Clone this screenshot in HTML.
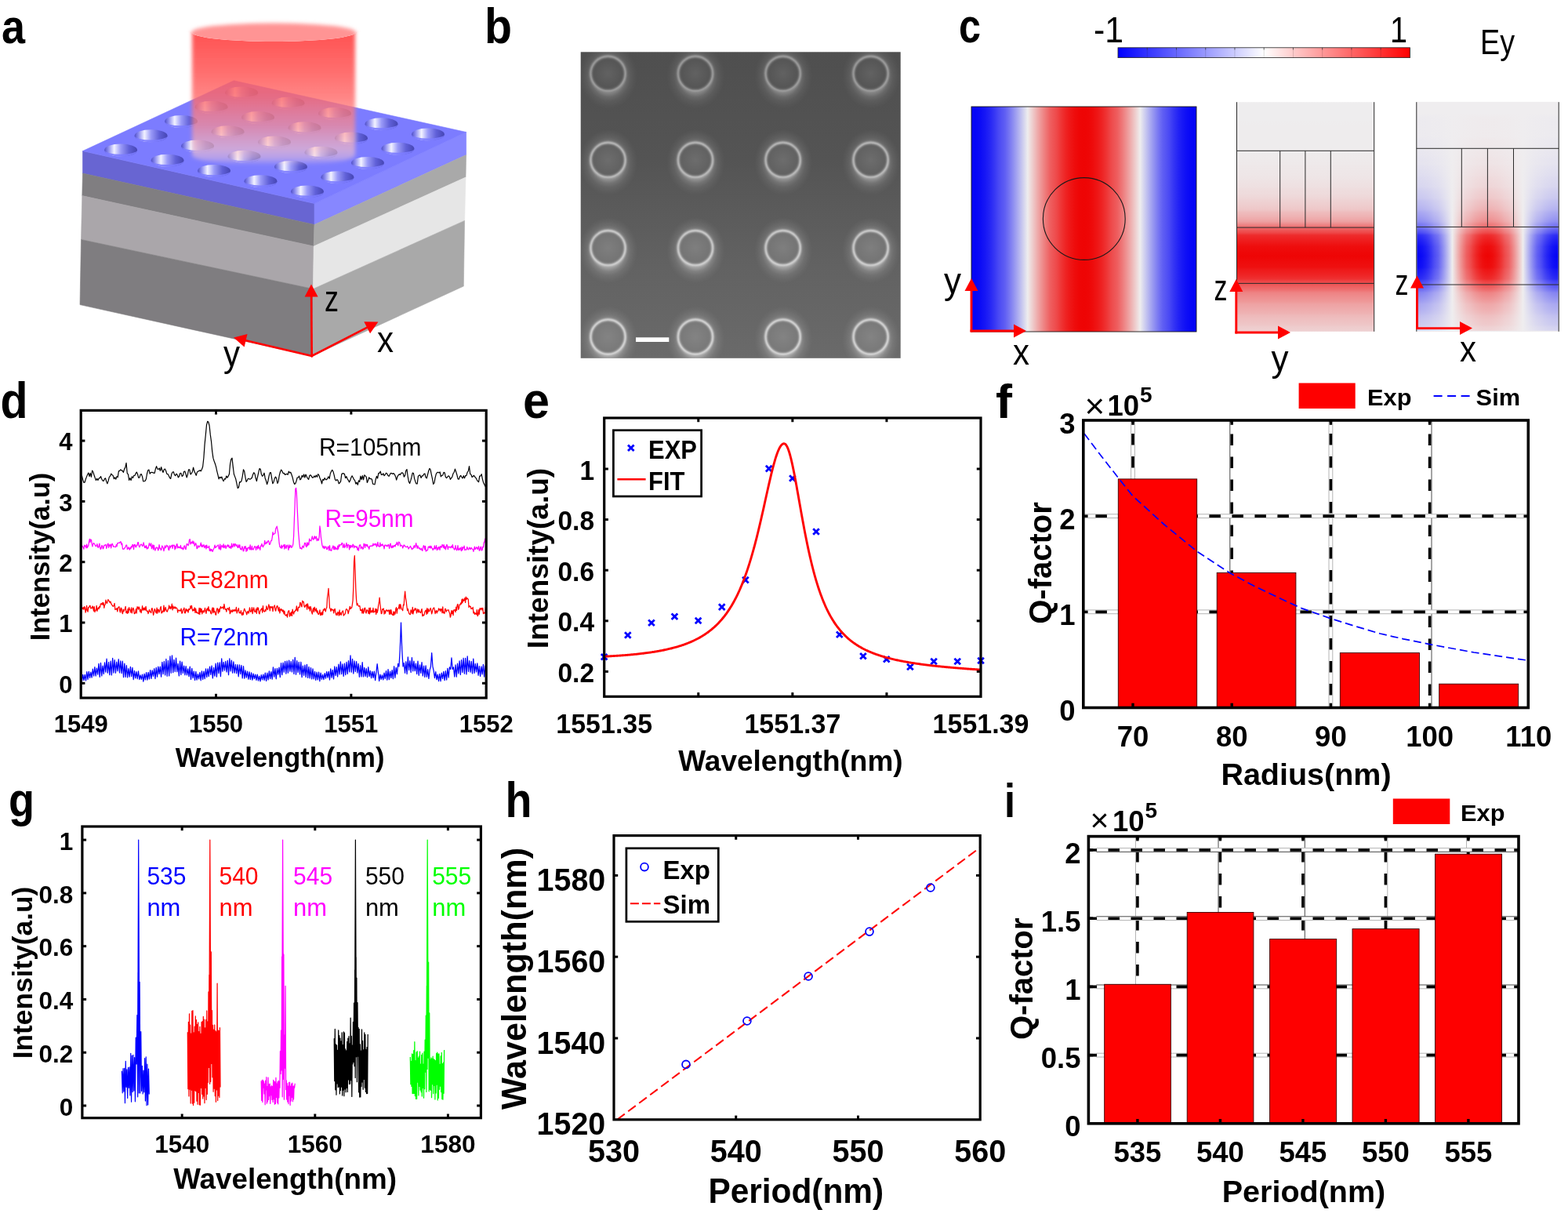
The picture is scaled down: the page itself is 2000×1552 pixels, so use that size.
<!DOCTYPE html>
<html lang="en">
<head>
<meta charset="utf-8">
<title>Figure</title>
<style>
html,body{margin:0;padding:0;background:#fff;}
body{width:2000px;height:1552px;overflow:hidden;}
svg{display:block;}
svg text{font-family:"Liberation Sans", Arial, Helvetica, sans-serif;}
</style>
</head>
<body>
<svg width="2000" height="1552" viewBox="0 0 2000 1552">
<defs>
<linearGradient id="aLight" x1="0" y1="0" x2="1" y2="0"><stop offset="0" stop-color="#dcdcdc"/><stop offset="1" stop-color="#ececec"/></linearGradient>
<linearGradient id="aTop" x1="0" y1="0" x2="1" y2="0"><stop offset="0" stop-color="#7a7aff"/><stop offset="1" stop-color="#8080ff"/></linearGradient>
<linearGradient id="aHole" x1="0" y1="0" x2="1" y2="0"><stop offset="0" stop-color="#5050c8"/><stop offset="0.12" stop-color="#8a8af0"/><stop offset="0.3" stop-color="#f2f2ff"/><stop offset="0.5" stop-color="#9a9af8"/><stop offset="0.75" stop-color="#6060d8"/><stop offset="1" stop-color="#4646b4"/></linearGradient>
<linearGradient id="aBeam" gradientUnits="userSpaceOnUse" x1="0" y1="40" x2="0" y2="211"><stop offset="0" stop-color="#ff4848" stop-opacity="0.95"/><stop offset="0.3" stop-color="#ff5a5a" stop-opacity="0.88"/><stop offset="0.5" stop-color="#ff6969" stop-opacity="0.8"/><stop offset="0.7" stop-color="#ff8c8c" stop-opacity="0.7"/><stop offset="0.88" stop-color="#ffc3c3" stop-opacity="0.62"/><stop offset="0.95" stop-color="#ffd0d0" stop-opacity="0.42"/><stop offset="1" stop-color="#ffd8d8" stop-opacity="0"/></linearGradient>
<filter id="aBlur" x="-10%" y="-10%" width="120%" height="120%"><feGaussianBlur stdDeviation="2.4"/></filter>
<filter id="aBlurE" x="-10%" y="-40%" width="120%" height="180%"><feGaussianBlur stdDeviation="2.6"/></filter>
<clipPath id="aClipBody"><path d="M230 41 L244 41 A105 12 0 0 0 454 41 L470 41 L470 230 L230 230 Z"/></clipPath>
<clipPath id="aClipTop"><path d="M230 0 L470 0 L470 41 L454 41 A105 12 0 0 1 244 41 L230 41 Z"/></clipPath>
<linearGradient id="bBg" x1="0" y1="0" x2="0" y2="1"><stop offset="0" stop-color="#4f4f4f"/><stop offset="0.35" stop-color="#545454"/><stop offset="0.7" stop-color="#626262"/><stop offset="1" stop-color="#6a6a6a"/></linearGradient>
<radialGradient id="bGlow" cx="0.5" cy="0.5" r="0.5"><stop offset="0" stop-color="#ffffff" stop-opacity="0.4"/><stop offset="0.54" stop-color="#ffffff" stop-opacity="0.38"/><stop offset="0.64" stop-color="#ffffff" stop-opacity="0.2"/><stop offset="0.76" stop-color="#ffffff" stop-opacity="0.09"/><stop offset="0.9" stop-color="#ffffff" stop-opacity="0.03"/><stop offset="1" stop-color="#ffffff" stop-opacity="0"/></radialGradient>
<radialGradient id="bIn" cx="0.5" cy="0.5" r="0.5"><stop offset="0" stop-color="#ffffff" stop-opacity="0.07"/><stop offset="0.8" stop-color="#ffffff" stop-opacity="0.0"/><stop offset="1" stop-color="#000000" stop-opacity="0.06"/></radialGradient>
<filter id="bBlur1" x="-30%" y="-30%" width="160%" height="160%"><feGaussianBlur stdDeviation="1.25"/></filter>
<clipPath id="bClip"><rect x="740.7" y="66.3" width="408" height="390.5"/></clipPath>
<linearGradient id="cBar" x1="0" y1="0" x2="1" y2="0"><stop offset="0" stop-color="#0000ff"/><stop offset="0.5" stop-color="#ffffff"/><stop offset="1" stop-color="#ff0000"/></linearGradient>
<linearGradient id="cM1" x1="0" y1="0" x2="1" y2="0"><stop offset="0" stop-color="#0404f6"/><stop offset="0.02" stop-color="#0606f6"/><stop offset="0.04" stop-color="#0c0cf6"/><stop offset="0.06" stop-color="#1616f5"/><stop offset="0.08" stop-color="#2323f5"/><stop offset="0.1" stop-color="#3434f4"/><stop offset="0.12" stop-color="#4948f4"/><stop offset="0.15" stop-color="#605ff3"/><stop offset="0.17" stop-color="#7978f2"/><stop offset="0.19" stop-color="#9494f1"/><stop offset="0.21" stop-color="#b1b1f0"/><stop offset="0.23" stop-color="#cfcfef"/><stop offset="0.25" stop-color="#eeedee"/><stop offset="0.27" stop-color="#eecfcf"/><stop offset="0.29" stop-color="#eeb1b1"/><stop offset="0.31" stop-color="#ee9494"/><stop offset="0.33" stop-color="#ee7979"/><stop offset="0.35" stop-color="#ee5f60"/><stop offset="0.38" stop-color="#ee4849"/><stop offset="0.4" stop-color="#ee3434"/><stop offset="0.42" stop-color="#ee2323"/><stop offset="0.44" stop-color="#ee1616"/><stop offset="0.46" stop-color="#ee0c0c"/><stop offset="0.48" stop-color="#ee0606"/><stop offset="0.5" stop-color="#ee0404"/><stop offset="0.52" stop-color="#ee0606"/><stop offset="0.54" stop-color="#ee0c0c"/><stop offset="0.56" stop-color="#ee1616"/><stop offset="0.58" stop-color="#ee2323"/><stop offset="0.6" stop-color="#ee3434"/><stop offset="0.62" stop-color="#ee4849"/><stop offset="0.65" stop-color="#ee5f60"/><stop offset="0.67" stop-color="#ee7879"/><stop offset="0.69" stop-color="#ee9494"/><stop offset="0.71" stop-color="#eeb1b1"/><stop offset="0.73" stop-color="#eecfcf"/><stop offset="0.75" stop-color="#eeedee"/><stop offset="0.77" stop-color="#cfcfef"/><stop offset="0.79" stop-color="#b1b1f0"/><stop offset="0.81" stop-color="#9494f1"/><stop offset="0.83" stop-color="#7978f2"/><stop offset="0.85" stop-color="#605ff3"/><stop offset="0.88" stop-color="#4948f4"/><stop offset="0.9" stop-color="#3434f4"/><stop offset="0.92" stop-color="#2323f5"/><stop offset="0.94" stop-color="#1616f5"/><stop offset="0.96" stop-color="#0c0cf6"/><stop offset="0.98" stop-color="#0606f6"/><stop offset="1" stop-color="#0404f6"/></linearGradient>
<linearGradient id="cM2" x1="0" y1="0" x2="0" y2="1"><stop offset="0" stop-color="#eeedee"/><stop offset="0.02" stop-color="#eeedee"/><stop offset="0.03" stop-color="#eeedee"/><stop offset="0.05" stop-color="#eeedee"/><stop offset="0.07" stop-color="#eeedee"/><stop offset="0.08" stop-color="#eeedee"/><stop offset="0.1" stop-color="#eeeced"/><stop offset="0.12" stop-color="#eeeced"/><stop offset="0.13" stop-color="#eeeced"/><stop offset="0.15" stop-color="#eeeced"/><stop offset="0.17" stop-color="#eeeced"/><stop offset="0.18" stop-color="#eeeced"/><stop offset="0.2" stop-color="#eeeced"/><stop offset="0.22" stop-color="#eeeced"/><stop offset="0.23" stop-color="#eeebec"/><stop offset="0.25" stop-color="#eeeaeb"/><stop offset="0.27" stop-color="#eee9ea"/><stop offset="0.28" stop-color="#eee8e9"/><stop offset="0.3" stop-color="#eee7e8"/><stop offset="0.32" stop-color="#eee6e7"/><stop offset="0.33" stop-color="#eee5e6"/><stop offset="0.35" stop-color="#eee2e3"/><stop offset="0.37" stop-color="#eee0e1"/><stop offset="0.38" stop-color="#eeddde"/><stop offset="0.4" stop-color="#eedbdc"/><stop offset="0.42" stop-color="#eed6d7"/><stop offset="0.43" stop-color="#eed2d3"/><stop offset="0.45" stop-color="#eecdce"/><stop offset="0.47" stop-color="#eec6c7"/><stop offset="0.48" stop-color="#eebcbd"/><stop offset="0.5" stop-color="#eeb1b2"/><stop offset="0.52" stop-color="#eea1a2"/><stop offset="0.53" stop-color="#ee8e8f"/><stop offset="0.55" stop-color="#ee6465"/><stop offset="0.57" stop-color="#ee4647"/><stop offset="0.58" stop-color="#ee2c2c"/><stop offset="0.6" stop-color="#ee1f20"/><stop offset="0.62" stop-color="#ee1313"/><stop offset="0.63" stop-color="#ee0d0d"/><stop offset="0.65" stop-color="#ee0909"/><stop offset="0.67" stop-color="#ee0505"/><stop offset="0.68" stop-color="#ee0707"/><stop offset="0.7" stop-color="#ee0c0c"/><stop offset="0.72" stop-color="#ee1010"/><stop offset="0.73" stop-color="#ee1919"/><stop offset="0.75" stop-color="#ee2223"/><stop offset="0.77" stop-color="#ee3031"/><stop offset="0.78" stop-color="#ee4243"/><stop offset="0.8" stop-color="#ee5b5c"/><stop offset="0.82" stop-color="#ee7172"/><stop offset="0.83" stop-color="#ee8283"/><stop offset="0.85" stop-color="#ee8e8f"/><stop offset="0.87" stop-color="#ee9999"/><stop offset="0.88" stop-color="#eea2a3"/><stop offset="0.9" stop-color="#eeaaab"/><stop offset="0.92" stop-color="#eeb2b3"/><stop offset="0.93" stop-color="#eeb9ba"/><stop offset="0.95" stop-color="#eec0c1"/><stop offset="0.97" stop-color="#eec6c7"/><stop offset="0.98" stop-color="#eecccd"/><stop offset="1" stop-color="#eed1d2"/></linearGradient>
<linearGradient id="cM3" x1="0" y1="0" x2="1" y2="0"><stop offset="0" stop-color="#0404f6"/><stop offset="0.02" stop-color="#0606f6"/><stop offset="0.04" stop-color="#0c0cf6"/><stop offset="0.06" stop-color="#1616f5"/><stop offset="0.08" stop-color="#2323f5"/><stop offset="0.1" stop-color="#3434f4"/><stop offset="0.12" stop-color="#4948f4"/><stop offset="0.15" stop-color="#605ff3"/><stop offset="0.17" stop-color="#7978f2"/><stop offset="0.19" stop-color="#9494f1"/><stop offset="0.21" stop-color="#b1b1f0"/><stop offset="0.23" stop-color="#cfcfef"/><stop offset="0.25" stop-color="#eeedee"/><stop offset="0.27" stop-color="#eecfcf"/><stop offset="0.29" stop-color="#eeb1b1"/><stop offset="0.31" stop-color="#ee9494"/><stop offset="0.33" stop-color="#ee7979"/><stop offset="0.35" stop-color="#ee5f60"/><stop offset="0.38" stop-color="#ee4849"/><stop offset="0.4" stop-color="#ee3434"/><stop offset="0.42" stop-color="#ee2323"/><stop offset="0.44" stop-color="#ee1616"/><stop offset="0.46" stop-color="#ee0c0c"/><stop offset="0.48" stop-color="#ee0606"/><stop offset="0.5" stop-color="#ee0404"/><stop offset="0.52" stop-color="#ee0606"/><stop offset="0.54" stop-color="#ee0c0c"/><stop offset="0.56" stop-color="#ee1616"/><stop offset="0.58" stop-color="#ee2323"/><stop offset="0.6" stop-color="#ee3434"/><stop offset="0.62" stop-color="#ee4849"/><stop offset="0.65" stop-color="#ee5f60"/><stop offset="0.67" stop-color="#ee7879"/><stop offset="0.69" stop-color="#ee9494"/><stop offset="0.71" stop-color="#eeb1b1"/><stop offset="0.73" stop-color="#eecfcf"/><stop offset="0.75" stop-color="#eeedee"/><stop offset="0.77" stop-color="#cfcfef"/><stop offset="0.79" stop-color="#b1b1f0"/><stop offset="0.81" stop-color="#9494f1"/><stop offset="0.83" stop-color="#7978f2"/><stop offset="0.85" stop-color="#605ff3"/><stop offset="0.88" stop-color="#4948f4"/><stop offset="0.9" stop-color="#3434f4"/><stop offset="0.92" stop-color="#2323f5"/><stop offset="0.94" stop-color="#1616f5"/><stop offset="0.96" stop-color="#0c0cf6"/><stop offset="0.98" stop-color="#0606f6"/><stop offset="1" stop-color="#0404f6"/></linearGradient>
<linearGradient id="cM3v" x1="0" y1="0" x2="0" y2="1"><stop offset="0" stop-color="#efedef" stop-opacity="1"/><stop offset="0.02" stop-color="#efedef" stop-opacity="1"/><stop offset="0.03" stop-color="#efedef" stop-opacity="1"/><stop offset="0.05" stop-color="#efedef" stop-opacity="1"/><stop offset="0.07" stop-color="#efedef" stop-opacity="0.99"/><stop offset="0.08" stop-color="#efedef" stop-opacity="0.99"/><stop offset="0.1" stop-color="#efedef" stop-opacity="0.99"/><stop offset="0.12" stop-color="#efedef" stop-opacity="0.99"/><stop offset="0.13" stop-color="#efedef" stop-opacity="0.99"/><stop offset="0.15" stop-color="#efedef" stop-opacity="0.99"/><stop offset="0.17" stop-color="#efedef" stop-opacity="0.98"/><stop offset="0.18" stop-color="#efedef" stop-opacity="0.98"/><stop offset="0.2" stop-color="#efedef" stop-opacity="0.98"/><stop offset="0.22" stop-color="#efedef" stop-opacity="0.97"/><stop offset="0.23" stop-color="#efedef" stop-opacity="0.97"/><stop offset="0.25" stop-color="#efedef" stop-opacity="0.96"/><stop offset="0.27" stop-color="#efedef" stop-opacity="0.96"/><stop offset="0.28" stop-color="#efedef" stop-opacity="0.95"/><stop offset="0.3" stop-color="#efedef" stop-opacity="0.94"/><stop offset="0.32" stop-color="#efedef" stop-opacity="0.93"/><stop offset="0.33" stop-color="#efedef" stop-opacity="0.92"/><stop offset="0.35" stop-color="#efedef" stop-opacity="0.91"/><stop offset="0.37" stop-color="#efedef" stop-opacity="0.9"/><stop offset="0.38" stop-color="#efedef" stop-opacity="0.88"/><stop offset="0.4" stop-color="#efedef" stop-opacity="0.86"/><stop offset="0.42" stop-color="#efedef" stop-opacity="0.84"/><stop offset="0.43" stop-color="#efedef" stop-opacity="0.81"/><stop offset="0.45" stop-color="#efedef" stop-opacity="0.78"/><stop offset="0.47" stop-color="#efedef" stop-opacity="0.74"/><stop offset="0.48" stop-color="#efedef" stop-opacity="0.7"/><stop offset="0.5" stop-color="#efedef" stop-opacity="0.65"/><stop offset="0.52" stop-color="#efedef" stop-opacity="0.59"/><stop offset="0.53" stop-color="#efedef" stop-opacity="0.52"/><stop offset="0.55" stop-color="#efedef" stop-opacity="0.43"/><stop offset="0.57" stop-color="#efedef" stop-opacity="0.29"/><stop offset="0.58" stop-color="#efedef" stop-opacity="0.17"/><stop offset="0.6" stop-color="#efedef" stop-opacity="0.11"/><stop offset="0.62" stop-color="#efedef" stop-opacity="0.06"/><stop offset="0.63" stop-color="#efedef" stop-opacity="0.03"/><stop offset="0.65" stop-color="#efedef" stop-opacity="0.02"/><stop offset="0.67" stop-color="#efedef" stop-opacity="0"/><stop offset="0.68" stop-color="#efedef" stop-opacity="0.01"/><stop offset="0.7" stop-color="#efedef" stop-opacity="0.02"/><stop offset="0.72" stop-color="#efedef" stop-opacity="0.03"/><stop offset="0.73" stop-color="#efedef" stop-opacity="0.07"/><stop offset="0.75" stop-color="#efedef" stop-opacity="0.11"/><stop offset="0.77" stop-color="#efedef" stop-opacity="0.16"/><stop offset="0.78" stop-color="#efedef" stop-opacity="0.25"/><stop offset="0.8" stop-color="#efedef" stop-opacity="0.35"/><stop offset="0.82" stop-color="#efedef" stop-opacity="0.46"/><stop offset="0.83" stop-color="#efedef" stop-opacity="0.54"/><stop offset="0.85" stop-color="#efedef" stop-opacity="0.6"/><stop offset="0.87" stop-color="#efedef" stop-opacity="0.66"/><stop offset="0.88" stop-color="#efedef" stop-opacity="0.7"/><stop offset="0.9" stop-color="#efedef" stop-opacity="0.73"/><stop offset="0.92" stop-color="#efedef" stop-opacity="0.77"/><stop offset="0.93" stop-color="#efedef" stop-opacity="0.8"/><stop offset="0.95" stop-color="#efedef" stop-opacity="0.83"/><stop offset="0.97" stop-color="#efedef" stop-opacity="0.85"/><stop offset="0.98" stop-color="#efedef" stop-opacity="0.88"/><stop offset="1" stop-color="#efedef" stop-opacity="0.9"/></linearGradient>
</defs>
<rect x="0" y="0" width="2000" height="1552" fill="#ffffff"/>
<g id="panel-a">
<text x="2" y="55" font-size="62" font-weight="bold" text-anchor="start" fill="#000" textLength="30" lengthAdjust="spacingAndGlyphs">a</text>
<polygon points="105.5,192.6 401,259.6 401,286.4 105.5,221" fill="#6865d2" stroke="#6865d2" stroke-width="0.6" />
<polygon points="401,259.6 594.6,168.5 594.6,197.6 401,286.4" fill="#8787ff" stroke="#8787ff" stroke-width="0.6" />
<polygon points="105.5,221 401,286.4 400.2,314 104.8,249.6" fill="#807e81" stroke="#807e81" stroke-width="0.6" />
<polygon points="401,286.4 594.6,197.6 594,226 400.2,314" fill="#a9a9a9" stroke="#a9a9a9" stroke-width="0.6" />
<polygon points="104.8,249.6 400.2,314 399.4,368.5 103.5,305.5" fill="#aaa6aa" stroke="#aaa6aa" stroke-width="0.6" />
<polygon points="400.2,314 594,226 592.6,281.4 399.4,368.5" fill="#e6e6e6" stroke="#e6e6e6" stroke-width="0.6" />
<polygon points="103.5,305.5 399.4,368.5 398,454 102,388.6" fill="#7f7d80" stroke="#7f7d80" stroke-width="0.6" />
<polygon points="399.4,368.5 592.6,281.4 591.3,365 398,454" fill="#a9a9a9" stroke="#a9a9a9" stroke-width="0.6" />
<polygon points="105.5,192.6 298.2,102.8 594.6,168.5 401,259.6" fill="#7c7cff" stroke="#7c7cff" stroke-width="0.6" />
<ellipse cx="154.1" cy="191.5" rx="21" ry="8" fill="url(#aHole)"/>
<path d="M133.1 191.5 A21 8 0 0 0 175.1 191.5 A21 5.2 0 0 1 133.1 191.5 Z" fill="#7c7cff" opacity="0.9"/>
<ellipse cx="213.56" cy="204.73" rx="21" ry="8" fill="url(#aHole)"/>
<path d="M192.56 204.73 A21 8 0 0 0 234.56 204.73 A21 5.2 0 0 1 192.56 204.73 Z" fill="#7c7cff" opacity="0.9"/>
<ellipse cx="273.02" cy="217.96" rx="21" ry="8" fill="url(#aHole)"/>
<path d="M252.02 217.96 A21 8 0 0 0 294.02 217.96 A21 5.2 0 0 1 252.02 217.96 Z" fill="#7c7cff" opacity="0.9"/>
<ellipse cx="332.48" cy="231.19" rx="21" ry="8" fill="url(#aHole)"/>
<path d="M311.48 231.19 A21 8 0 0 0 353.48 231.19 A21 5.2 0 0 1 311.48 231.19 Z" fill="#7c7cff" opacity="0.9"/>
<ellipse cx="391.94" cy="244.42" rx="21" ry="8" fill="url(#aHole)"/>
<path d="M370.94 244.42 A21 8 0 0 0 412.94 244.42 A21 5.2 0 0 1 370.94 244.42 Z" fill="#7c7cff" opacity="0.9"/>
<ellipse cx="192.6" cy="173.24" rx="21" ry="8" fill="url(#aHole)"/>
<path d="M171.6 173.24 A21 8 0 0 0 213.6 173.24 A21 5.2 0 0 1 171.6 173.24 Z" fill="#7c7cff" opacity="0.9"/>
<ellipse cx="252.06" cy="186.47" rx="21" ry="8" fill="url(#aHole)"/>
<path d="M231.06 186.47 A21 8 0 0 0 273.06 186.47 A21 5.2 0 0 1 231.06 186.47 Z" fill="#7c7cff" opacity="0.9"/>
<ellipse cx="311.52" cy="199.7" rx="21" ry="8" fill="url(#aHole)"/>
<path d="M290.52 199.7 A21 8 0 0 0 332.52 199.7 A21 5.2 0 0 1 290.52 199.7 Z" fill="#7c7cff" opacity="0.9"/>
<ellipse cx="370.98" cy="212.93" rx="21" ry="8" fill="url(#aHole)"/>
<path d="M349.98 212.93 A21 8 0 0 0 391.98 212.93 A21 5.2 0 0 1 349.98 212.93 Z" fill="#7c7cff" opacity="0.9"/>
<ellipse cx="430.44" cy="226.16" rx="21" ry="8" fill="url(#aHole)"/>
<path d="M409.44 226.16 A21 8 0 0 0 451.44 226.16 A21 5.2 0 0 1 409.44 226.16 Z" fill="#7c7cff" opacity="0.9"/>
<ellipse cx="231.1" cy="154.98" rx="21" ry="8" fill="url(#aHole)"/>
<path d="M210.1 154.98 A21 8 0 0 0 252.1 154.98 A21 5.2 0 0 1 210.1 154.98 Z" fill="#7c7cff" opacity="0.9"/>
<ellipse cx="290.56" cy="168.21" rx="21" ry="8" fill="url(#aHole)"/>
<path d="M269.56 168.21 A21 8 0 0 0 311.56 168.21 A21 5.2 0 0 1 269.56 168.21 Z" fill="#7c7cff" opacity="0.9"/>
<ellipse cx="350.02" cy="181.44" rx="21" ry="8" fill="url(#aHole)"/>
<path d="M329.02 181.44 A21 8 0 0 0 371.02 181.44 A21 5.2 0 0 1 329.02 181.44 Z" fill="#7c7cff" opacity="0.9"/>
<ellipse cx="409.48" cy="194.67" rx="21" ry="8" fill="url(#aHole)"/>
<path d="M388.48 194.67 A21 8 0 0 0 430.48 194.67 A21 5.2 0 0 1 388.48 194.67 Z" fill="#7c7cff" opacity="0.9"/>
<ellipse cx="468.94" cy="207.9" rx="21" ry="8" fill="url(#aHole)"/>
<path d="M447.94 207.9 A21 8 0 0 0 489.94 207.9 A21 5.2 0 0 1 447.94 207.9 Z" fill="#7c7cff" opacity="0.9"/>
<ellipse cx="269.6" cy="136.72" rx="21" ry="8" fill="url(#aHole)"/>
<path d="M248.6 136.72 A21 8 0 0 0 290.6 136.72 A21 5.2 0 0 1 248.6 136.72 Z" fill="#7c7cff" opacity="0.9"/>
<ellipse cx="329.06" cy="149.95" rx="21" ry="8" fill="url(#aHole)"/>
<path d="M308.06 149.95 A21 8 0 0 0 350.06 149.95 A21 5.2 0 0 1 308.06 149.95 Z" fill="#7c7cff" opacity="0.9"/>
<ellipse cx="388.52" cy="163.18" rx="21" ry="8" fill="url(#aHole)"/>
<path d="M367.52 163.18 A21 8 0 0 0 409.52 163.18 A21 5.2 0 0 1 367.52 163.18 Z" fill="#7c7cff" opacity="0.9"/>
<ellipse cx="447.98" cy="176.41" rx="21" ry="8" fill="url(#aHole)"/>
<path d="M426.98 176.41 A21 8 0 0 0 468.98 176.41 A21 5.2 0 0 1 426.98 176.41 Z" fill="#7c7cff" opacity="0.9"/>
<ellipse cx="507.44" cy="189.64" rx="21" ry="8" fill="url(#aHole)"/>
<path d="M486.44 189.64 A21 8 0 0 0 528.44 189.64 A21 5.2 0 0 1 486.44 189.64 Z" fill="#7c7cff" opacity="0.9"/>
<ellipse cx="308.1" cy="118.46" rx="21" ry="8" fill="url(#aHole)"/>
<path d="M287.1 118.46 A21 8 0 0 0 329.1 118.46 A21 5.2 0 0 1 287.1 118.46 Z" fill="#7c7cff" opacity="0.9"/>
<ellipse cx="367.56" cy="131.69" rx="21" ry="8" fill="url(#aHole)"/>
<path d="M346.56 131.69 A21 8 0 0 0 388.56 131.69 A21 5.2 0 0 1 346.56 131.69 Z" fill="#7c7cff" opacity="0.9"/>
<ellipse cx="427.02" cy="144.92" rx="21" ry="8" fill="url(#aHole)"/>
<path d="M406.02 144.92 A21 8 0 0 0 448.02 144.92 A21 5.2 0 0 1 406.02 144.92 Z" fill="#7c7cff" opacity="0.9"/>
<ellipse cx="486.48" cy="158.15" rx="21" ry="8" fill="url(#aHole)"/>
<path d="M465.48 158.15 A21 8 0 0 0 507.48 158.15 A21 5.2 0 0 1 465.48 158.15 Z" fill="#7c7cff" opacity="0.9"/>
<ellipse cx="545.94" cy="171.38" rx="21" ry="8" fill="url(#aHole)"/>
<path d="M524.94 171.38 A21 8 0 0 0 566.94 171.38 A21 5.2 0 0 1 524.94 171.38 Z" fill="#7c7cff" opacity="0.9"/>
<g clip-path="url(#aClipBody)"><path d="M245 20 L245 198 A104 13 0 0 0 453 198 L453 20 Z" fill="url(#aBeam)" filter="url(#aBlur)"/></g>
<g clip-path="url(#aClipTop)"><path d="M244.5 41 A104.5 11.5 0 0 1 453.5 41 L456 44 A107 17 0 0 1 242 44 Z" fill="#ff9494" filter="url(#aBlurE)"/></g>
<line x1="397.7" y1="454" x2="397.11" y2="377.5" stroke="#ff0000" stroke-width="2.6" stroke-linecap="square"/><polygon points="397,362.5 405.62,378.43 388.62,378.56" fill="#ff0000" stroke="none" stroke-width="1" />
<line x1="397.7" y1="454" x2="312.6" y2="433.94" stroke="#ff0000" stroke-width="2.6" stroke-linecap="square"/><polygon points="298,430.5 315.52,425.9 311.62,442.44" fill="#ff0000" stroke="none" stroke-width="1" />
<line x1="397.7" y1="454" x2="469.06" y2="417.27" stroke="#ff0000" stroke-width="2.6" stroke-linecap="square"/><polygon points="482.4,410.4 472.06,425.28 464.28,410.17" fill="#ff0000" stroke="none" stroke-width="1" />
<text x="414" y="397" font-size="47" font-weight="normal" text-anchor="start" fill="#000" textLength="18" lengthAdjust="spacingAndGlyphs">z</text>
<text x="481" y="449" font-size="47" font-weight="normal" text-anchor="start" fill="#000" textLength="21" lengthAdjust="spacingAndGlyphs">x</text>
<text x="285" y="467" font-size="47" font-weight="normal" text-anchor="start" fill="#000" textLength="21" lengthAdjust="spacingAndGlyphs">y</text>
</g>
<g id="panel-b">
<text x="618" y="55" font-size="63" font-weight="bold" text-anchor="start" fill="#000" textLength="35" lengthAdjust="spacingAndGlyphs">b</text>
<rect x="740.7" y="66.3" width="408" height="390.5" fill="url(#bBg)" stroke="none" stroke-width="1" />
<g clip-path="url(#bClip)">
<ellipse cx="776" cy="96.8" rx="37" ry="42" fill="url(#bGlow)" opacity="0.7"/>
<ellipse cx="887.5" cy="96.8" rx="37" ry="42" fill="url(#bGlow)" opacity="0.7"/>
<ellipse cx="999.2" cy="96.8" rx="37" ry="42" fill="url(#bGlow)" opacity="0.7"/>
<ellipse cx="1111.1" cy="96.8" rx="37" ry="42" fill="url(#bGlow)" opacity="0.7"/>
<ellipse cx="776" cy="206.9" rx="37" ry="42" fill="url(#bGlow)" opacity="0.85"/>
<ellipse cx="887.5" cy="206.9" rx="37" ry="42" fill="url(#bGlow)" opacity="0.85"/>
<ellipse cx="999.2" cy="206.9" rx="37" ry="42" fill="url(#bGlow)" opacity="0.85"/>
<ellipse cx="1111.1" cy="206.9" rx="37" ry="42" fill="url(#bGlow)" opacity="0.85"/>
<ellipse cx="776" cy="319.2" rx="37" ry="42" fill="url(#bGlow)" opacity="1"/>
<ellipse cx="887.5" cy="319.2" rx="37" ry="42" fill="url(#bGlow)" opacity="1"/>
<ellipse cx="999.2" cy="319.2" rx="37" ry="42" fill="url(#bGlow)" opacity="1"/>
<ellipse cx="1111.1" cy="319.2" rx="37" ry="42" fill="url(#bGlow)" opacity="1"/>
<ellipse cx="776" cy="432.6" rx="37" ry="42" fill="url(#bGlow)" opacity="1"/>
<ellipse cx="887.5" cy="432.6" rx="37" ry="42" fill="url(#bGlow)" opacity="1"/>
<ellipse cx="999.2" cy="432.6" rx="37" ry="42" fill="url(#bGlow)" opacity="1"/>
<ellipse cx="1111.1" cy="432.6" rx="37" ry="42" fill="url(#bGlow)" opacity="1"/>
<circle cx="775.5" cy="93.8" r="21.5" fill="#565656"/>
<circle cx="775.5" cy="93.8" r="21.5" fill="url(#bIn)"/>
<circle cx="775.5" cy="93.8" r="22" fill="none" stroke="#a4a4a4" stroke-width="2.7" filter="url(#bBlur1)"/>
<circle cx="887" cy="93.8" r="21.5" fill="#565656"/>
<circle cx="887" cy="93.8" r="21.5" fill="url(#bIn)"/>
<circle cx="887" cy="93.8" r="22" fill="none" stroke="#a4a4a4" stroke-width="2.7" filter="url(#bBlur1)"/>
<circle cx="998.7" cy="93.8" r="21.5" fill="#565656"/>
<circle cx="998.7" cy="93.8" r="21.5" fill="url(#bIn)"/>
<circle cx="998.7" cy="93.8" r="22" fill="none" stroke="#a4a4a4" stroke-width="2.7" filter="url(#bBlur1)"/>
<circle cx="1110.6" cy="93.8" r="21.5" fill="#565656"/>
<circle cx="1110.6" cy="93.8" r="21.5" fill="url(#bIn)"/>
<circle cx="1110.6" cy="93.8" r="22" fill="none" stroke="#a4a4a4" stroke-width="2.7" filter="url(#bBlur1)"/>
<circle cx="775.5" cy="203.9" r="21.5" fill="#626262"/>
<circle cx="775.5" cy="203.9" r="21.5" fill="url(#bIn)"/>
<circle cx="775.5" cy="203.9" r="22" fill="none" stroke="#c4c4c4" stroke-width="2.7" filter="url(#bBlur1)"/>
<circle cx="887" cy="203.9" r="21.5" fill="#626262"/>
<circle cx="887" cy="203.9" r="21.5" fill="url(#bIn)"/>
<circle cx="887" cy="203.9" r="22" fill="none" stroke="#c4c4c4" stroke-width="2.7" filter="url(#bBlur1)"/>
<circle cx="998.7" cy="203.9" r="21.5" fill="#626262"/>
<circle cx="998.7" cy="203.9" r="21.5" fill="url(#bIn)"/>
<circle cx="998.7" cy="203.9" r="22" fill="none" stroke="#c4c4c4" stroke-width="2.7" filter="url(#bBlur1)"/>
<circle cx="1110.6" cy="203.9" r="21.5" fill="#626262"/>
<circle cx="1110.6" cy="203.9" r="21.5" fill="url(#bIn)"/>
<circle cx="1110.6" cy="203.9" r="22" fill="none" stroke="#c4c4c4" stroke-width="2.7" filter="url(#bBlur1)"/>
<circle cx="775.5" cy="316.2" r="21.5" fill="#757575"/>
<circle cx="775.5" cy="316.2" r="21.5" fill="url(#bIn)"/>
<circle cx="775.5" cy="316.2" r="22" fill="none" stroke="#dadada" stroke-width="2.7" filter="url(#bBlur1)"/>
<circle cx="887" cy="316.2" r="21.5" fill="#757575"/>
<circle cx="887" cy="316.2" r="21.5" fill="url(#bIn)"/>
<circle cx="887" cy="316.2" r="22" fill="none" stroke="#dadada" stroke-width="2.7" filter="url(#bBlur1)"/>
<circle cx="998.7" cy="316.2" r="21.5" fill="#757575"/>
<circle cx="998.7" cy="316.2" r="21.5" fill="url(#bIn)"/>
<circle cx="998.7" cy="316.2" r="22" fill="none" stroke="#dadada" stroke-width="2.7" filter="url(#bBlur1)"/>
<circle cx="1110.6" cy="316.2" r="21.5" fill="#757575"/>
<circle cx="1110.6" cy="316.2" r="21.5" fill="url(#bIn)"/>
<circle cx="1110.6" cy="316.2" r="22" fill="none" stroke="#dadada" stroke-width="2.7" filter="url(#bBlur1)"/>
<circle cx="775.5" cy="429.6" r="21.5" fill="#7a7a7a"/>
<circle cx="775.5" cy="429.6" r="21.5" fill="url(#bIn)"/>
<circle cx="775.5" cy="429.6" r="22" fill="none" stroke="#e2e2e2" stroke-width="2.7" filter="url(#bBlur1)"/>
<circle cx="887" cy="429.6" r="21.5" fill="#7a7a7a"/>
<circle cx="887" cy="429.6" r="21.5" fill="url(#bIn)"/>
<circle cx="887" cy="429.6" r="22" fill="none" stroke="#e2e2e2" stroke-width="2.7" filter="url(#bBlur1)"/>
<circle cx="998.7" cy="429.6" r="21.5" fill="#7a7a7a"/>
<circle cx="998.7" cy="429.6" r="21.5" fill="url(#bIn)"/>
<circle cx="998.7" cy="429.6" r="22" fill="none" stroke="#e2e2e2" stroke-width="2.7" filter="url(#bBlur1)"/>
<circle cx="1110.6" cy="429.6" r="21.5" fill="#7a7a7a"/>
<circle cx="1110.6" cy="429.6" r="21.5" fill="url(#bIn)"/>
<circle cx="1110.6" cy="429.6" r="22" fill="none" stroke="#e2e2e2" stroke-width="2.7" filter="url(#bBlur1)"/>
</g>
<rect x="811" y="430.3" width="42.3" height="5.7" fill="#ffffff" stroke="none" stroke-width="1" />
</g>
<g id="panel-c">
<text x="1223" y="54" font-size="62" font-weight="bold" text-anchor="start" fill="#000" textLength="28" lengthAdjust="spacingAndGlyphs">c</text>
<rect x="1426" y="60.8" width="372.4" height="12.8" fill="url(#cBar)" stroke="#222" stroke-width="0.8" />
<line x1="1463.24" y1="60.8" x2="1463.24" y2="63.5" stroke="#333" stroke-width="0.8" />
<line x1="1463.24" y1="63.5" x2="1463.24" y2="73.6" stroke="#000" stroke-width="0.8" opacity="0.18"/>
<line x1="1500.48" y1="60.8" x2="1500.48" y2="63.5" stroke="#333" stroke-width="0.8" />
<line x1="1500.48" y1="63.5" x2="1500.48" y2="73.6" stroke="#000" stroke-width="0.8" opacity="0.18"/>
<line x1="1537.72" y1="60.8" x2="1537.72" y2="63.5" stroke="#333" stroke-width="0.8" />
<line x1="1537.72" y1="63.5" x2="1537.72" y2="73.6" stroke="#000" stroke-width="0.8" opacity="0.18"/>
<line x1="1574.96" y1="60.8" x2="1574.96" y2="63.5" stroke="#333" stroke-width="0.8" />
<line x1="1574.96" y1="63.5" x2="1574.96" y2="73.6" stroke="#000" stroke-width="0.8" opacity="0.18"/>
<line x1="1612.2" y1="60.8" x2="1612.2" y2="63.5" stroke="#333" stroke-width="0.8" />
<line x1="1612.2" y1="63.5" x2="1612.2" y2="73.6" stroke="#000" stroke-width="0.8" opacity="0.18"/>
<line x1="1649.44" y1="60.8" x2="1649.44" y2="63.5" stroke="#333" stroke-width="0.8" />
<line x1="1649.44" y1="63.5" x2="1649.44" y2="73.6" stroke="#000" stroke-width="0.8" opacity="0.18"/>
<line x1="1686.68" y1="60.8" x2="1686.68" y2="63.5" stroke="#333" stroke-width="0.8" />
<line x1="1686.68" y1="63.5" x2="1686.68" y2="73.6" stroke="#000" stroke-width="0.8" opacity="0.18"/>
<line x1="1723.92" y1="60.8" x2="1723.92" y2="63.5" stroke="#333" stroke-width="0.8" />
<line x1="1723.92" y1="63.5" x2="1723.92" y2="73.6" stroke="#000" stroke-width="0.8" opacity="0.18"/>
<line x1="1761.16" y1="60.8" x2="1761.16" y2="63.5" stroke="#333" stroke-width="0.8" />
<line x1="1761.16" y1="63.5" x2="1761.16" y2="73.6" stroke="#000" stroke-width="0.8" opacity="0.18"/>
<text x="1395" y="54" font-size="46" font-weight="normal" text-anchor="start" fill="#000" textLength="38" lengthAdjust="spacingAndGlyphs">-1</text>
<text x="1773" y="54" font-size="46" font-weight="normal" text-anchor="start" fill="#000" textLength="22" lengthAdjust="spacingAndGlyphs">1</text>
<text x="1888" y="69" font-size="45" font-weight="normal" text-anchor="start" fill="#000" textLength="44" lengthAdjust="spacingAndGlyphs">Ey</text>
<rect x="1239" y="136" width="287" height="287" fill="url(#cM1)" stroke="#1a1a1a" stroke-width="0.9" />
<circle cx="1382.8" cy="279" r="52.4" fill="none" stroke="#1a1a1a" stroke-width="1.1"/>
<line x1="1239" y1="422" x2="1239" y2="370" stroke="#ff0000" stroke-width="2.9" stroke-linecap="square"/><polygon points="1239,355 1247.5,371 1230.5,371" fill="#ff0000" stroke="none" stroke-width="1" />
<line x1="1239" y1="422" x2="1294" y2="422" stroke="#ff0000" stroke-width="2.9" stroke-linecap="square"/><polygon points="1309,422 1293,430.5 1293,413.5" fill="#ff0000" stroke="none" stroke-width="1" />
<text x="1204" y="374" font-size="47" font-weight="normal" text-anchor="start" fill="#000" textLength="22" lengthAdjust="spacingAndGlyphs">y</text>
<text x="1292" y="464.5" font-size="47" font-weight="normal" text-anchor="start" fill="#000" textLength="21" lengthAdjust="spacingAndGlyphs">x</text>
<rect x="1577.5" y="130.2" width="175.2" height="292.6" fill="url(#cM2)" stroke="none" stroke-width="1" />
<line x1="1577.5" y1="130.2" x2="1577.5" y2="422.8" stroke="#2a2a2a" stroke-width="1" />
<line x1="1752.7" y1="130.2" x2="1752.7" y2="422.8" stroke="#2a2a2a" stroke-width="1" />
<line x1="1577.5" y1="192.3" x2="1752.7" y2="192.3" stroke="#2a2a2a" stroke-width="1" />
<line x1="1577.5" y1="290.1" x2="1752.7" y2="290.1" stroke="#2a2a2a" stroke-width="1" />
<line x1="1577.5" y1="361.4" x2="1752.7" y2="361.4" stroke="#2a2a2a" stroke-width="1" />
<line x1="1632.7" y1="192.3" x2="1632.7" y2="290.1" stroke="#2a2a2a" stroke-width="1" />
<line x1="1664.9" y1="192.3" x2="1664.9" y2="290.1" stroke="#2a2a2a" stroke-width="1" />
<line x1="1697.3" y1="192.3" x2="1697.3" y2="290.1" stroke="#2a2a2a" stroke-width="1" />
<line x1="1576.8" y1="424" x2="1576.8" y2="371" stroke="#ff0000" stroke-width="2.9" stroke-linecap="square"/><polygon points="1576.8,356 1585.3,372 1568.3,372" fill="#ff0000" stroke="none" stroke-width="1" />
<line x1="1576.8" y1="424" x2="1631" y2="424" stroke="#ff0000" stroke-width="2.9" stroke-linecap="square"/><polygon points="1646,424 1630,432.5 1630,415.5" fill="#ff0000" stroke="none" stroke-width="1" />
<text x="1548.5" y="382.5" font-size="47" font-weight="normal" text-anchor="start" fill="#000" textLength="17" lengthAdjust="spacingAndGlyphs">z</text>
<text x="1621.5" y="473" font-size="47" font-weight="normal" text-anchor="start" fill="#000" textLength="22" lengthAdjust="spacingAndGlyphs">y</text>
<rect x="1806.8" y="130.2" width="181.4" height="292.6" fill="#efedef" stroke="none" stroke-width="1" />
<rect x="1807.3" y="131.2" width="180.4" height="290.6" fill="url(#cM3)" stroke="none" stroke-width="1" />
<rect x="1806.5" y="129.9" width="182" height="293.2" fill="url(#cM3v)" stroke="none" stroke-width="1" />
<line x1="1806.8" y1="130.2" x2="1806.8" y2="422.8" stroke="#2a2a2a" stroke-width="1" />
<line x1="1988.2" y1="130.2" x2="1988.2" y2="422.8" stroke="#2a2a2a" stroke-width="1" />
<line x1="1806.8" y1="189.3" x2="1988.2" y2="189.3" stroke="#2a2a2a" stroke-width="1" />
<line x1="1806.8" y1="289.4" x2="1988.2" y2="289.4" stroke="#2a2a2a" stroke-width="1" />
<line x1="1806.8" y1="363" x2="1988.2" y2="363" stroke="#2a2a2a" stroke-width="1" />
<line x1="1864.3" y1="189.3" x2="1864.3" y2="289.4" stroke="#2a2a2a" stroke-width="1" />
<line x1="1897.4" y1="189.3" x2="1897.4" y2="289.4" stroke="#2a2a2a" stroke-width="1" />
<line x1="1930.5" y1="189.3" x2="1930.5" y2="289.4" stroke="#2a2a2a" stroke-width="1" />
<line x1="1807.5" y1="418.6" x2="1807.5" y2="366.5" stroke="#ff0000" stroke-width="2.9" stroke-linecap="square"/><polygon points="1807.5,351.5 1816,367.5 1799,367.5" fill="#ff0000" stroke="none" stroke-width="1" />
<line x1="1807.5" y1="418.6" x2="1863" y2="418.6" stroke="#ff0000" stroke-width="2.9" stroke-linecap="square"/><polygon points="1878,418.6 1862,427.1 1862,410.1" fill="#ff0000" stroke="none" stroke-width="1" />
<text x="1779.5" y="375.6" font-size="47" font-weight="normal" text-anchor="start" fill="#000" textLength="17" lengthAdjust="spacingAndGlyphs">z</text>
<text x="1862" y="461.4" font-size="47" font-weight="normal" text-anchor="start" fill="#000" textLength="21" lengthAdjust="spacingAndGlyphs">x</text>
</g>
<g id="panel-d">
<text x="0.5" y="533" font-size="64.5" font-weight="bold" text-anchor="start" fill="#000" textLength="35" lengthAdjust="spacingAndGlyphs">d</text>
<polyline points="103.2,609.31 104.41,606.54 105.61,611.41 106.82,615.29 108.02,615.23 109.23,611.31 110.43,608.13 111.64,605.27 112.84,602.92 114.05,607.52 115.25,603.44 116.46,608.28 117.66,600.02 118.87,602.08 120.07,606.04 121.28,609.51 122.48,612.51 123.69,610.28 124.89,612.55 126.1,609.98 127.3,609.63 128.51,607.57 129.71,610.8 130.92,613 132.12,613.47 133.33,610.81 134.53,609.79 135.74,614.03 136.94,616.78 138.15,613.16 139.35,608.41 140.56,607.19 141.76,604.17 142.97,605.59 144.17,606.48 145.38,610.58 146.58,608.85 147.79,611.15 148.99,607.59 150.2,608.61 151.41,600.87 152.61,600.33 153.82,598.83 155.02,599.94 156.23,600.35 157.43,602.44 158.64,598.14 159.84,596.12 161.05,590.44 162.25,603.52 163.46,604.82 164.66,612.38 165.87,609.64 167.07,612.54 168.28,607.85 169.48,609.42 170.69,606.55 171.89,606.44 173.1,603.89 174.3,602.1 175.51,604.56 176.71,609.24 177.92,609.16 179.12,605.17 180.33,604.67 181.53,607.89 182.74,613.97 183.94,613.77 185.15,613.15 186.35,610.98 187.56,604.02 188.76,599.66 189.97,599.03 191.17,604.21 192.38,602.61 193.58,602.24 194.79,602.63 195.99,603.16 197.2,603.31 198.41,597.83 199.61,594.59 200.82,598.11 202.02,598.4 203.23,597.05 204.43,600.46 205.64,595.63 206.84,600.12 208.05,602.43 209.25,598.76 210.46,598.09 211.66,600.49 212.87,604.4 214.07,604.54 215.28,606.72 216.48,609.27 217.69,610.46 218.89,604.4 220.1,601.98 221.3,601.72 222.51,605.35 223.71,606.73 224.92,604.2 226.12,605.4 227.33,608.81 228.53,607.53 229.74,603.5 230.94,603.32 232.15,607.4 233.35,606.55 234.56,601.6 235.76,600.9 236.97,604.28 238.17,608.94 239.38,605.37 240.58,598.8 241.79,598.81 242.99,604.94 244.2,603.85 245.41,601.44 246.61,596.05 247.82,601.02 249.02,603.62 250.23,606.3 251.43,602.1 252.64,601.01 253.84,600.67 255.05,599.73 256.25,600.79 257.46,598.53 258.66,595.04 259.87,583.95 261.07,566.9 262.28,555 263.48,542.18 264.69,537.29 265.89,538.27 267.1,542.98 268.3,554.41 269.51,562.98 270.71,575.69 271.92,584.16 273.12,588.04 274.33,591.25 275.53,595.17 276.74,600.86 277.94,605.61 279.15,610.85 280.35,608.25 281.56,609.56 282.76,608.04 283.97,611.72 285.17,613.59 286.38,610.51 287.58,611.07 288.79,607.04 289.99,609.22 291.2,607.13 292.41,604.52 293.61,591.57 294.82,585.52 296.02,584.14 297.23,595.14 298.43,604.75 299.64,607.88 300.84,611.31 302.05,617.06 303.25,622.55 304.46,621.47 305.66,614.64 306.87,614.79 308.07,613.18 309.28,607.27 310.48,598.91 311.69,601.12 312.89,608.28 314.1,614.4 315.3,612.6 316.51,610.2 317.71,610.6 318.92,611.17 320.12,610.46 321.33,609.28 322.53,605.36 323.74,602.68 324.94,604.11 326.15,609.51 327.35,613.54 328.56,608.1 329.76,602.69 330.97,597.59 332.17,598.18 333.38,604.69 334.58,607.32 335.79,606.1 336.99,603.21 338.2,609.92 339.41,613 340.61,617.64 341.82,613.72 343.02,607.44 344.23,602.79 345.43,602.59 346.64,609.88 347.84,616.76 349.05,614.68 350.25,610.39 351.46,608.08 352.66,610 353.87,616.41 355.07,614 356.28,606.13 357.48,601.75 358.69,599.1 359.89,600.83 361.1,603.63 362.3,603.42 363.51,605.37 364.71,604.87 365.92,604.26 367.12,605.29 368.33,601.11 369.53,602.97 370.74,602.24 371.94,605.2 373.15,608.98 374.35,614.17 375.56,617.39 376.76,616.81 377.97,613.62 379.17,609.02 380.38,608.97 381.58,607.04 382.79,611.82 383.99,610.73 385.2,606.33 386.41,608.42 387.61,604.97 388.82,609.14 390.02,605.04 391.23,607.86 392.43,610.02 393.64,611.47 394.84,606.55 396.05,605.75 397.25,607.09 398.46,609.25 399.66,608.83 400.87,606.96 402.07,608.55 403.28,606.08 404.48,608.33 405.69,604.66 406.89,606.1 408.1,610.04 409.3,612.38 410.51,616.97 411.71,611.25 412.92,612.47 414.12,609.51 415.33,611.66 416.53,611.54 417.74,610.22 418.94,607.79 420.15,610.34 421.35,603.76 422.56,601.19 423.76,599.27 424.97,601.45 426.17,605.91 427.38,611.32 428.58,612.98 429.79,611.55 430.99,612.67 432.2,616.79 433.41,615.7 434.61,613.86 435.82,604.53 437.02,603.69 438.23,603.86 439.43,604.57 440.64,609.65 441.84,607.63 443.05,610.6 444.25,612.34 445.46,614.86 446.66,612.66 447.87,608.97 449.07,606.77 450.28,609.02 451.48,611.43 452.69,612.84 453.89,617.09 455.1,615.15 456.3,618.3 457.51,612.8 458.71,614.32 459.92,607.23 461.12,611.51 462.33,606.64 463.53,611.79 464.74,605.78 465.94,606.9 467.15,608.16 468.35,615.45 469.56,612.53 470.76,608.76 471.97,610.7 473.17,610.36 474.38,611.31 475.58,617.12 476.79,617.52 477.99,617.81 479.2,611.46 480.41,607.36 481.61,610.03 482.82,603.44 484.02,603.46 485.23,601.09 486.43,605.47 487.64,605.45 488.84,603.82 490.05,606.71 491.25,605.27 492.46,603.23 493.66,604.07 494.87,606.44 496.07,607.38 497.28,605.17 498.48,603.3 499.69,603.57 500.89,604.47 502.1,603.58 503.3,605.11 504.51,607.71 505.71,612.08 506.92,607.87 508.12,605.9 509.33,604.72 510.53,605.5 511.74,603.36 512.94,602.77 514.15,603.75 515.35,608.11 516.56,606.33 517.76,600.42 518.97,598.54 520.17,607.52 521.38,614.14 522.58,616.52 523.79,612.85 524.99,608.47 526.2,603.02 527.41,603.49 528.61,610.31 529.82,614.18 531.02,617.01 532.23,616.97 533.43,607.14 534.64,606.21 535.84,605.96 537.05,609.37 538.25,606.94 539.46,606.91 540.66,604.52 541.87,603.96 543.07,608.73 544.28,609.87 545.48,605.28 546.69,600.46 547.89,597.45 549.1,599.12 550.3,605.08 551.51,610.74 552.71,617.39 553.92,615.96 555.12,609.18 556.33,604.28 557.53,602.72 558.74,602.19 559.94,602.93 561.15,601.86 562.35,607.79 563.56,606.23 564.76,606.19 565.97,602.36 567.17,602.86 568.38,608.4 569.58,609.66 570.79,608.22 571.99,606.85 573.2,607.63 574.41,611.35 575.61,609.55 576.82,608.02 578.02,603.86 579.23,602.24 580.43,598.08 581.64,601.59 582.84,605.49 584.05,610.79 585.25,611.24 586.46,607.94 587.66,606.4 588.87,608.53 590.07,609.96 591.28,606.63 592.48,609.85 593.69,606.5 594.89,606.63 596.1,602.39 597.3,600.75 598.51,594.63 599.71,604.55 600.92,605.19 602.12,608.52 603.33,607.53 604.53,606.28 605.74,608.24 606.94,609.38 608.15,611.71 609.35,613.65 610.56,614.67 611.76,607.04 612.97,607.08 614.17,604.64 615.38,610.8 616.58,615.43 617.79,617.81 618.99,620.15 620.2,616.12" fill="none" stroke="#000000" stroke-width="1.2" stroke-linejoin="round" />
<polyline points="103.2,698.41 103.94,696.23 104.68,695.88 105.42,697.37 106.16,698.07 106.9,700.17 107.64,695.23 108.38,696.77 109.12,695.85 109.86,698.81 110.6,694.13 111.34,698.59 112.08,697.03 112.82,695.59 113.55,690.95 114.29,687.27 115.03,691.69 115.77,687.97 116.51,688.66 117.25,693.89 117.99,696.98 118.73,693.65 119.47,692.53 120.21,693.45 120.95,694.16 121.69,696.41 122.43,696.38 123.17,696.25 123.91,693.56 124.65,697.7 125.39,698.27 126.13,696.28 126.87,693.12 127.61,698.3 128.35,700.48 129.09,699.07 129.83,695.64 130.57,696 131.31,699.95 132.05,699.15 132.79,695.47 133.52,695.48 134.26,694.9 135,694.5 135.74,699.31 136.48,697.18 137.22,694.19 137.96,693.11 138.7,698.36 139.44,694.86 140.18,696.18 140.92,694.05 141.66,698.78 142.4,694.86 143.14,693.26 143.88,695.03 144.62,697.23 145.36,696.93 146.1,697.26 146.84,697.49 147.58,697.71 148.32,694.58 149.06,696.92 149.8,692.64 150.54,692.65 151.28,692.48 152.02,692.05 152.76,692.59 153.49,690.84 154.23,690.82 154.97,694.62 155.71,693 156.45,700.05 157.19,700.14 157.93,700.33 158.67,699.24 159.41,698.45 160.15,697 160.89,695.16 161.63,695.09 162.37,700.51 163.11,699.64 163.85,697.84 164.59,699.72 165.33,701.16 166.07,698.03 166.81,699.84 167.55,696.71 168.29,697.85 169.03,694.29 169.77,695.25 170.51,700.62 171.25,694.68 171.99,694.29 172.73,696.79 173.46,697.92 174.2,695.24 174.94,695.71 175.68,691.95 176.42,691.71 177.16,696.1 177.9,697.85 178.64,696.28 179.38,694.68 180.12,694.04 180.86,694.64 181.6,696.59 182.34,695.79 183.08,691.84 183.82,695.12 184.56,698.44 185.3,696.5 186.04,698.58 186.78,695.74 187.52,700.08 188.26,698.6 189,699.12 189.74,695.92 190.48,692.73 191.22,695.35 191.96,696.18 192.69,692.93 193.43,699.72 194.17,697.77 194.91,694.74 195.65,700.92 196.39,695.48 197.13,699.44 197.87,702.2 198.61,699.46 199.35,697.97 200.09,698.76 200.83,698.2 201.57,701.79 202.31,701.14 203.05,694.64 203.79,699.2 204.53,699.09 205.27,701.57 206.01,700.45 206.75,696 207.49,697.25 208.23,698.94 208.97,702.66 209.71,699.08 210.45,695.94 211.19,698.84 211.93,697.27 212.66,695.22 213.4,696.52 214.14,696.45 214.88,700.77 215.62,701.61 216.36,695.9 217.1,698.86 217.84,696.42 218.58,696.62 219.32,695.16 220.06,699.37 220.8,695.18 221.54,695.55 222.28,695.21 223.02,700.88 223.76,696.53 224.5,699.22 225.24,694.11 225.98,693.72 226.72,698.89 227.46,697.14 228.2,698.44 228.94,697.52 229.68,698.96 230.42,695.5 231.16,699.32 231.9,699.73 232.63,698.36 233.37,700.94 234.11,699.96 234.85,696.3 235.59,695.92 236.33,699.83 237.07,700.61 237.81,695.16 238.55,693.37 239.29,694.48 240.03,695.81 240.77,693.65 241.51,688.18 242.25,687.65 242.99,693.91 243.73,692.45 244.47,691.12 245.21,692.9 245.95,689.9 246.69,693.19 247.43,691.02 248.17,696.26 248.91,694.71 249.65,692.64 250.39,694.88 251.13,699.66 251.87,699.08 252.6,695.72 253.34,697.62 254.08,697.72 254.82,696.36 255.56,695.17 256.3,692.23 257.04,697.42 257.78,694.97 258.52,697.44 259.26,695.62 260,694.75 260.74,698.65 261.48,697.13 262.22,695.65 262.96,700.02 263.7,695.12 264.44,698.18 265.18,698.46 265.92,697.86 266.66,696.37 267.4,702.28 268.14,699.99 268.88,702.73 269.62,700.5 270.36,701.12 271.1,703.47 271.84,701.42 272.57,700.05 273.31,698.15 274.05,695.14 274.79,698.69 275.53,697.88 276.27,696.8 277.01,696.02 277.75,695.72 278.49,695.03 279.23,699.91 279.97,700.14 280.71,694.19 281.45,701.14 282.19,697.49 282.93,695.42 283.67,696.89 284.41,698.04 285.15,693.86 285.89,698.64 286.63,697.47 287.37,695.22 288.11,699.46 288.85,697.48 289.59,696 290.33,694.81 291.07,697.21 291.81,695.17 292.54,698.52 293.28,698.57 294.02,696.6 294.76,699.48 295.5,693.08 296.24,697.7 296.98,697.58 297.72,693.62 298.46,693.81 299.2,697.13 299.94,693.38 300.68,695.01 301.42,696.31 302.16,694.56 302.9,697.97 303.64,698.49 304.38,694.9 305.12,698.06 305.86,694.98 306.6,700.32 307.34,699.89 308.08,701.26 308.82,696.85 309.56,698.03 310.3,702.87 311.04,702.25 311.78,696.89 312.51,699.08 313.25,696.69 313.99,703.28 314.73,699.16 315.47,702.05 316.21,698.38 316.95,698.6 317.69,697.84 318.43,700.85 319.17,694.95 319.91,700.75 320.65,701.2 321.39,696.34 322.13,700.52 322.87,701.08 323.61,699.6 324.35,697.85 325.09,696.52 325.83,697.44 326.57,701.33 327.31,697.81 328.05,696.68 328.79,700.22 329.53,695.36 330.27,698.84 331.01,698.33 331.75,701.32 332.48,696.11 333.22,696.49 333.96,693.51 334.7,696.09 335.44,697.67 336.18,695.71 336.92,695.09 337.66,689.3 338.4,693.69 339.14,693.61 339.88,691.04 340.62,692.62 341.36,690.79 342.1,689.62 342.84,690.02 343.58,694.33 344.32,694.23 345.06,691.87 345.8,689.34 346.54,689.44 347.28,685.06 348.02,678.63 348.76,681.78 349.5,680.92 350.24,680.52 350.98,679.92 351.72,674.15 352.45,672.92 353.19,671.16 353.93,675.09 354.67,678.79 355.41,684.45 356.15,692.72 356.89,697.35 357.63,697.81 358.37,699.04 359.11,695.02 359.85,699.15 360.59,696.39 361.33,696.4 362.07,694.53 362.81,700.09 363.55,694.67 364.29,697.77 365.03,699.5 365.77,695.46 366.51,695.14 367.25,697.53 367.99,701.31 368.73,694.84 369.47,698.5 370.21,696.46 370.95,695.43 371.68,698.34 372.42,697.73 373.16,696.45 373.9,693.61 374.64,683.26 375.38,662.12 376.12,643.96 376.86,623.8 377.6,622.41 378.34,628.86 379.08,647.07 379.82,661.27 380.56,677.91 381.3,686.48 382.04,694.45 382.78,699.27 383.52,698.45 384.26,699.8 385,700.04 385.74,696.01 386.48,697.2 387.22,698.37 387.96,695.47 388.7,692.46 389.44,692.36 390.18,696.26 390.92,697.57 391.65,691.85 392.39,695.79 393.13,692.42 393.87,694.85 394.61,687.12 395.35,689.58 396.09,689.07 396.83,689.86 397.57,687.05 398.31,683.84 399.05,687.2 399.79,688.34 400.53,686.1 401.27,683.76 402.01,687.22 402.75,685.02 403.49,684.22 404.23,689.59 404.97,686.93 405.71,688.95 406.45,689.16 407.19,684.17 407.93,670.88 408.67,676.18 409.41,685.04 410.15,689.78 410.89,695.36 411.62,697.15 412.36,698.95 413.1,696.25 413.84,699.63 414.58,698.37 415.32,696.87 416.06,697.75 416.8,700.59 417.54,700.34 418.28,697.12 419.02,697.22 419.76,701.92 420.5,695.71 421.24,701.66 421.98,701.97 422.72,702.33 423.46,699.41 424.2,697.82 424.94,695.96 425.68,700.68 426.42,696.77 427.16,700.8 427.9,697.67 428.64,700.07 429.38,699.37 430.12,701.04 430.86,696.13 431.59,700.24 432.33,694.58 433.07,696.86 433.81,694.63 434.55,694.63 435.29,694.86 436.03,692.43 436.77,692.76 437.51,698.26 438.25,697.48 438.99,693.55 439.73,698.51 440.47,696.51 441.21,696 441.95,692.42 442.69,698.7 443.43,695.28 444.17,694.53 444.91,695.14 445.65,700.88 446.39,695.31 447.13,698.51 447.87,695.61 448.61,696.48 449.35,697.93 450.09,694.07 450.83,695.41 451.56,698.72 452.3,696.2 453.04,697.35 453.78,696.81 454.52,698.16 455.26,696.8 456,701.43 456.74,698.97 457.48,702.23 458.22,696.05 458.96,694.86 459.7,694.82 460.44,699.78 461.18,697.4 461.92,697.58 462.66,700.25 463.4,699.47 464.14,693.26 464.88,694.12 465.62,698.29 466.36,694.11 467.1,694.59 467.84,696.45 468.58,694.57 469.32,697.65 470.06,697.72 470.8,700.36 471.53,696.39 472.27,696.68 473.01,695.88 473.75,696.54 474.49,695.86 475.23,696.3 475.97,693.18 476.71,695.5 477.45,694.45 478.19,693.46 478.93,695.13 479.67,693.41 480.41,697.36 481.15,695.69 481.89,691.34 482.63,696.3 483.37,696.85 484.11,697.34 484.85,692.03 485.59,696.52 486.33,694.67 487.07,695.74 487.81,693.81 488.55,695.9 489.29,696.11 490.03,699.99 490.77,695.03 491.5,695.1 492.24,696.11 492.98,695.21 493.72,696.75 494.46,696.21 495.2,694.41 495.94,695.77 496.68,699.47 497.42,694.08 498.16,693.15 498.9,697.86 499.64,698.65 500.38,696.01 501.12,698.27 501.86,695.83 502.6,696.73 503.34,695.32 504.08,697.04 504.82,694.12 505.56,694.52 506.3,691.36 507.04,693.97 507.78,695.9 508.52,691.05 509.26,691.48 510,692.69 510.74,696.69 511.47,695.24 512.21,695.42 512.95,696.05 513.69,698.98 514.43,697.08 515.17,694.89 515.91,696.29 516.65,696.07 517.39,697.46 518.13,697.75 518.87,697.52 519.61,696.52 520.35,697.77 521.09,700.06 521.83,698.39 522.57,698.38 523.31,696.43 524.05,697.52 524.79,699.13 525.53,700.8 526.27,699.34 527.01,699.72 527.75,696.85 528.49,695.7 529.23,698.71 529.97,696 530.71,692.71 531.44,696.64 532.18,699.41 532.92,695.89 533.66,698.04 534.4,699.61 535.14,698.73 535.88,700.59 536.62,700.77 537.36,699.17 538.1,701.56 538.84,702.45 539.58,698.42 540.32,695.74 541.06,696.73 541.8,700.9 542.54,696.37 543.28,703.08 544.02,701.64 544.76,702.21 545.5,701.32 546.24,697.43 546.98,696.88 547.72,698.63 548.46,696.32 549.2,699.04 549.94,696.4 550.67,698.74 551.41,699.21 552.15,701.63 552.89,699.66 553.63,699.82 554.37,695.78 555.11,700.19 555.85,699.01 556.59,695.52 557.33,701.69 558.07,698.72 558.81,700.92 559.55,697.29 560.29,697.99 561.03,701.32 561.77,696.34 562.51,697.75 563.25,698.15 563.99,694.56 564.73,695.17 565.47,698.36 566.21,694.72 566.95,699.64 567.69,696.92 568.43,700.86 569.17,697.24 569.91,694.44 570.64,696.26 571.38,700.58 572.12,697.23 572.86,697.44 573.6,697.38 574.34,698.74 575.08,697.52 575.82,696.48 576.56,698.73 577.3,694.69 578.04,698.22 578.78,699.29 579.52,701.08 580.26,700.38 581,695.62 581.74,699.87 582.48,701.85 583.22,700.36 583.96,695.66 584.7,701.51 585.44,699.83 586.18,701.16 586.92,698.36 587.66,699.75 588.4,702.71 589.14,697.4 589.88,701.66 590.61,698.23 591.35,698.83 592.09,696.22 592.83,701.6 593.57,700.91 594.31,701.2 595.05,701 595.79,697.41 596.53,699.4 597.27,701.02 598.01,700.28 598.75,698.04 599.49,699.67 600.23,700.53 600.97,698.34 601.71,699.28 602.45,700.18 603.19,700.74 603.93,703.44 604.67,700.25 605.41,697.13 606.15,700.62 606.89,699.7 607.63,697.87 608.37,698.19 609.11,700.69 609.85,698.83 610.58,696.69 611.32,702.13 612.06,701.85 612.8,698.16 613.54,697.19 614.28,702.03 615.02,701.38 615.76,697.47 616.5,697.82 617.24,691.87 617.98,691.1 618.72,687.07 619.46,693.43 620.2,696.64" fill="none" stroke="#ff00ff" stroke-width="1.25" stroke-linejoin="round" />
<polyline points="103.2,772.89 103.94,771.82 104.68,775.82 105.42,776.54 106.16,774.51 106.9,777.34 107.64,773.59 108.38,774.52 109.12,781.08 109.86,777.96 110.6,772.49 111.34,778.8 112.08,780.17 112.82,774.67 113.55,774.82 114.29,772.37 115.03,772.26 115.77,775.93 116.51,775.17 117.25,775.91 117.99,772.92 118.73,774.31 119.47,779.26 120.21,773.62 120.95,780.51 121.69,778.46 122.43,778.25 123.17,772.37 123.91,779.45 124.65,776.78 125.39,774.73 126.13,776.64 126.87,773.43 127.61,774.47 128.35,770 129.09,769.75 129.83,771.01 130.57,768.57 131.31,771.29 132.05,768.48 132.79,775.3 133.52,771.66 134.26,770.81 135,765.09 135.74,768.79 136.48,769.28 137.22,767.03 137.96,764.5 138.7,765.87 139.44,766.74 140.18,768.65 140.92,767.05 141.66,769.34 142.4,771.16 143.14,771.79 143.88,773.05 144.62,773.31 145.36,771.78 146.1,769.44 146.84,777.39 147.58,776.64 148.32,777.14 149.06,775.54 149.8,779.85 150.54,775.26 151.28,774.09 152.02,773.72 152.76,778.7 153.49,781.02 154.23,775.1 154.97,775.88 155.71,781.3 156.45,782.71 157.19,777.13 157.93,779.89 158.67,778 159.41,776.42 160.15,773.39 160.89,781.49 161.63,779.72 162.37,782.47 163.11,776.46 163.85,781.65 164.59,774.68 165.33,777.09 166.07,778.02 166.81,781.04 167.55,774.77 168.29,781.92 169.03,777.68 169.77,775.18 170.51,776.91 171.25,782.51 171.99,782.51 172.73,781.11 173.46,776.62 174.2,782.03 174.94,773.98 175.68,774.12 176.42,777.2 177.16,773.92 177.9,775.47 178.64,780.05 179.38,777.35 180.12,781.55 180.86,777.97 181.6,772.72 182.34,778.14 183.08,775.36 183.82,777.98 184.56,775.02 185.3,778.18 186.04,773.31 186.78,778.37 187.52,779.63 188.26,779.05 189,782.59 189.74,780.44 190.48,777.5 191.22,780.21 191.96,780.04 192.69,781.6 193.43,775.96 194.17,775.76 194.91,780.27 195.65,784.46 196.39,781.11 197.13,776.48 197.87,777.79 198.61,780.61 199.35,781.96 200.09,775.06 200.83,782.21 201.57,777.19 202.31,777.54 203.05,780.95 203.79,778.8 204.53,775.25 205.27,773.52 206.01,781.94 206.75,781.19 207.49,779.27 208.23,780.11 208.97,772.03 209.71,779.96 210.45,777.57 211.19,774.26 211.93,777.85 212.66,779.71 213.4,780.06 214.14,777.46 214.88,776.5 215.62,772 216.36,775.84 217.1,773.54 217.84,776.52 218.58,774.64 219.32,770.24 220.06,777.95 220.8,772.78 221.54,775.89 222.28,775.55 223.02,773.63 223.76,776.12 224.5,774.81 225.24,775.33 225.98,776.09 226.72,781.01 227.46,778.03 228.2,778.45 228.94,778.11 229.68,779.46 230.42,778.41 231.16,776.04 231.9,782.05 232.63,781.77 233.37,777.74 234.11,777.34 234.85,775.12 235.59,781.74 236.33,781.95 237.07,776.26 237.81,779.47 238.55,777.15 239.29,778.62 240.03,781.18 240.77,776.46 241.51,777.71 242.25,776.72 242.99,772.53 243.73,775.8 244.47,772.46 245.21,777.31 245.95,779.18 246.69,777.19 247.43,778.57 248.17,774.8 248.91,781.27 249.65,776.02 250.39,781.3 251.13,780.28 251.87,781.86 252.6,781.87 253.34,782.95 254.08,775.29 254.82,783.53 255.56,775.73 256.3,780.29 257.04,776.3 257.78,782.96 258.52,779.66 259.26,778.76 260,781.08 260.74,778.88 261.48,775.45 262.22,779.81 262.96,782.39 263.7,776.99 264.44,775.81 265.18,778.96 265.92,773.58 266.66,779.01 267.4,778 268.14,778.81 268.88,782.01 269.62,782.77 270.36,777.44 271.1,774.87 271.84,781.72 272.57,775.43 273.31,780.5 274.05,779.76 274.79,783.63 275.53,784.2 276.27,778.39 277.01,775.55 277.75,777.43 278.49,782.07 279.23,776.53 279.97,780.37 280.71,776.23 281.45,773.48 282.19,775.62 282.93,775.44 283.67,774.4 284.41,773.95 285.15,776.87 285.89,770.37 286.63,774.85 287.37,777.4 288.11,776.67 288.85,780.18 289.59,776.8 290.33,775.71 291.07,776.03 291.81,778.09 292.54,774.33 293.28,782.63 294.02,781.26 294.76,778 295.5,779.51 296.24,780.57 296.98,777.42 297.72,779.34 298.46,778.94 299.2,777.33 299.94,779.25 300.68,778.95 301.42,774.4 302.16,781.96 302.9,779.38 303.64,778.17 304.38,775.66 305.12,781.62 305.86,781.42 306.6,781.88 307.34,778.52 308.08,782.96 308.82,784.57 309.56,781.2 310.3,783.98 311.04,778.52 311.78,776.16 312.51,778.32 313.25,779.48 313.99,781.06 314.73,783.88 315.47,780.63 316.21,779.35 316.95,782.19 317.69,780.59 318.43,774.8 319.17,779.01 319.91,780.37 320.65,778.85 321.39,774.68 322.13,782.67 322.87,778.46 323.61,774.76 324.35,778.19 325.09,780.51 325.83,780.13 326.57,776.57 327.31,782.36 328.05,774.74 328.79,777.56 329.53,775.22 330.27,781.81 331.01,782.92 331.75,779.48 332.48,777.89 333.22,776.95 333.96,775.72 334.7,781.08 335.44,772.6 336.18,779.14 336.92,779.76 337.66,780.08 338.4,777.55 339.14,779.11 339.88,772.9 340.62,775.91 341.36,777.63 342.1,775.11 342.84,770.94 343.58,773.55 344.32,778.8 345.06,773.26 345.8,774.45 346.54,775.04 347.28,773.35 348.02,779.61 348.76,774.57 349.5,773.43 350.24,771.9 350.98,777.7 351.72,779.16 352.45,775.29 353.19,772.81 353.93,772.64 354.67,776.52 355.41,779.24 356.15,774.44 356.89,781.91 357.63,777.52 358.37,776.29 359.11,778.94 359.85,777.34 360.59,780 361.33,778.08 362.07,782.82 362.81,779.05 363.55,784.19 364.29,784.44 365.03,785.19 365.77,783.37 366.51,787.12 367.25,780.65 367.99,778.9 368.73,778.81 369.47,786.08 370.21,781.89 370.95,784.98 371.68,780.31 372.42,785.4 373.16,777.03 373.9,780.92 374.64,783.14 375.38,779.92 376.12,780.07 376.86,777.93 377.6,778.4 378.34,772.82 379.08,778.15 379.82,779.49 380.56,774.25 381.3,774.64 382.04,774.59 382.78,768.43 383.52,768.73 384.26,772.81 385,773.74 385.74,766.2 386.48,767.63 387.22,767.36 387.96,773.05 388.7,774.45 389.44,772.08 390.18,772.62 390.92,770.46 391.65,777.13 392.39,769.94 393.13,773.39 393.87,776.45 394.61,773.87 395.35,779.09 396.09,773.35 396.83,775.9 397.57,780.51 398.31,783.17 399.05,777.95 399.79,775.39 400.53,780.31 401.27,774.25 402.01,777.8 402.75,779.27 403.49,775.89 404.23,781.19 404.97,778.84 405.71,783.23 406.45,783.5 407.19,781.66 407.93,777.94 408.67,784.69 409.41,781.61 410.15,784.43 410.89,780.15 411.62,783.95 412.36,777.35 413.1,778.28 413.84,775.87 414.58,777.25 415.32,779.98 416.06,776.01 416.8,774.89 417.54,762.15 418.28,757 419.02,750.39 419.76,762.57 420.5,775.4 421.24,776.4 421.98,779.72 422.72,776.05 423.46,777.94 424.2,777.62 424.94,777.41 425.68,781.85 426.42,777.76 427.16,776.41 427.9,780.56 428.64,784.06 429.38,782.13 430.12,784.71 430.86,780.27 431.59,781.26 432.33,785.21 433.07,777.96 433.81,784.04 434.55,781.62 435.29,784.25 436.03,780.64 436.77,779.76 437.51,778.89 438.25,785.03 438.99,784.08 439.73,783.48 440.47,782.18 441.21,777.62 441.95,776.47 442.69,777.71 443.43,778.31 444.17,782.7 444.91,779.58 445.65,776.33 446.39,773.27 447.13,776.68 447.87,775.14 448.61,775.07 449.35,771.13 450.09,765.56 450.83,748.36 451.56,716.13 452.3,708.65 453.04,726.85 453.78,750.34 454.52,764.02 455.26,771.88 456,769.61 456.74,771.8 457.48,773.22 458.22,772.63 458.96,772.94 459.7,778.34 460.44,778.4 461.18,777.43 461.92,782 462.66,776.19 463.4,782.2 464.14,780.54 464.88,775.72 465.62,775.16 466.36,780.62 467.1,782.03 467.84,777.81 468.58,777.88 469.32,779.7 470.06,782.57 470.8,775.28 471.53,782.95 472.27,775.14 473.01,780.8 473.75,780.7 474.49,778.3 475.23,780.93 475.97,775.43 476.71,780.96 477.45,780.12 478.19,780.03 478.93,776.18 479.67,783.35 480.41,776.91 481.15,781.37 481.89,778.33 482.63,772.1 483.37,768.73 484.11,762.03 484.85,770.05 485.59,776.92 486.33,782.62 487.07,782.28 487.81,776.58 488.55,777.31 489.29,775.94 490.03,783.23 490.77,778.85 491.5,782.24 492.24,778.75 492.98,777.74 493.72,778.76 494.46,779.64 495.2,778 495.94,778.03 496.68,783.29 497.42,777.88 498.16,783.28 498.9,777.55 499.64,782.9 500.38,783.72 501.12,784.74 501.86,779.78 502.6,784.31 503.34,780.38 504.08,783.04 504.82,776.53 505.56,774.62 506.3,782.1 507.04,776.49 507.78,776.05 508.52,775.53 509.26,770.83 510,776.75 510.74,770.71 511.47,773.93 512.21,776.72 512.95,777.29 513.69,778.73 514.43,771.21 515.17,771.93 515.91,761.02 516.65,754.21 517.39,762.36 518.13,766.52 518.87,773.18 519.61,778.55 520.35,776.28 521.09,779.81 521.83,782.65 522.57,783.36 523.31,783.66 524.05,777.86 524.79,779.45 525.53,782.34 526.27,774.34 527.01,783 527.75,777.86 528.49,778.71 529.23,775.64 529.97,777.91 530.71,776.14 531.44,781.91 532.18,779.41 532.92,776.76 533.66,780.97 534.4,777.74 535.14,780.61 535.88,780.68 536.62,781.66 537.36,778.34 538.1,776.46 538.84,785.65 539.58,783.88 540.32,785.04 541.06,784.15 541.8,780.49 542.54,779.06 543.28,777.98 544.02,783.32 544.76,775.56 545.5,782.2 546.24,776.62 546.98,779.74 547.72,779.54 548.46,776.73 549.2,775.5 549.94,778.63 550.67,782.82 551.41,780.07 552.15,776.68 552.89,775.47 553.63,775.01 554.37,777.92 555.11,782.7 555.85,780.03 556.59,778.4 557.33,781.89 558.07,779.31 558.81,779.29 559.55,775.81 560.29,777.89 561.03,776.76 561.77,779.64 562.51,776.43 563.25,776.96 563.99,781.62 564.73,773.82 565.47,781.6 566.21,780.61 566.95,782.49 567.69,776.36 568.43,776.44 569.17,780.19 569.91,778.32 570.64,778.13 571.38,778.04 572.12,777.76 572.86,780.52 573.6,781.8 574.34,787.22 575.08,785.06 575.82,778.6 576.56,782.72 577.3,778.78 578.04,784.73 578.78,777.96 579.52,778.2 580.26,777.59 581,780.59 581.74,774.06 582.48,778.46 583.22,771.51 583.96,770.42 584.7,777.26 585.44,775.77 586.18,771.15 586.92,771.43 587.66,768.86 588.4,770.25 589.14,764.02 589.88,768.97 590.61,763.96 591.35,766.44 592.09,765.4 592.83,762.59 593.57,768.49 594.31,761.14 595.05,764.45 595.79,762.63 596.53,763.58 597.27,764.13 598.01,774.51 598.75,772.59 599.49,773.69 600.23,773.46 600.97,776.6 601.71,775.91 602.45,776.24 603.19,774.43 603.93,781.89 604.67,780.38 605.41,783.38 606.15,781.88 606.89,782.91 607.63,783.5 608.37,777.57 609.11,785.56 609.85,784.5 610.58,777.53 611.32,783.28 612.06,775.51 612.8,777.71 613.54,775.79 614.28,775.49 615.02,778 615.76,775.42 616.5,782.59 617.24,781.12 617.98,782.03 618.72,781.88 619.46,774.08 620.2,775.36" fill="none" stroke="#ff0000" stroke-width="1.25" stroke-linejoin="round" />
<polyline points="103.2,863.19 104.46,868.95 105.73,860.38 106.99,867.61 108.26,860.31 109.52,868.01 110.78,856.73 112.05,866.3 113.31,856.41 114.58,864.42 115.84,857.14 117.1,864.24 118.37,853.11 119.63,862.02 120.9,850.58 122.16,862.01 123.42,852.02 124.69,860.17 125.95,846.33 127.22,863.35 128.48,845.44 129.75,861.96 131.01,849.15 132.27,859.43 133.54,844.78 134.8,857.22 136.07,840.18 137.33,858.18 138.59,844.35 139.86,860.74 141.12,843.23 142.39,860.98 143.65,839.31 144.91,858.05 146.18,841.53 147.44,858.25 148.71,844.07 149.97,855.8 151.23,840.72 152.5,858 153.76,842.86 155.03,858.63 156.29,843.22 157.55,863.64 158.82,846.1 160.08,863.47 161.35,848.63 162.61,863.92 163.87,852.56 165.14,863.24 166.4,850.36 167.67,862.63 168.93,851.46 170.2,866.56 171.46,855.31 172.72,864.94 173.99,856.57 175.25,865.78 176.52,855.97 177.78,866.53 179.04,860.91 180.31,866.32 181.57,860.01 182.84,869.24 184.1,859.25 185.36,866.88 186.63,857.59 187.89,867.17 189.16,857.45 190.42,865.94 191.68,854.61 192.95,865.33 194.21,854.91 195.48,862.44 196.74,852.71 198,865.56 199.27,851.31 200.53,863.16 201.8,850.13 203.06,859.6 204.32,850.18 205.59,863.13 206.85,844.37 208.12,859.67 209.38,843.44 210.64,860.96 211.91,840.43 213.17,862.31 214.44,842.42 215.7,861.97 216.97,836.79 218.23,858.33 219.49,835.98 220.76,857.64 222.02,841.39 223.29,856.55 224.55,839.19 225.81,856.75 227.08,846.34 228.34,861.91 229.61,843.02 230.87,860.45 232.13,844.16 233.4,858.54 234.66,849.18 235.93,860.77 237.19,849.65 238.45,860.9 239.72,852.94 240.98,862.58 242.25,850.11 243.51,866.47 244.77,852.41 246.04,864.75 247.3,856.1 248.57,867.49 249.83,856.38 251.09,867.16 252.36,859.7 253.62,865.96 254.89,857.56 256.15,867.77 257.42,855.83 258.68,866.37 259.94,856.15 261.21,865.6 262.47,852.81 263.74,863.64 265,852.76 266.26,862.71 267.53,850.09 268.79,860.51 270.06,849 271.32,864.94 272.58,851.31 273.85,862.24 275.11,846.22 276.38,863.16 277.64,845.1 278.9,858.66 280.17,844.82 281.43,862.7 282.7,839.87 283.96,856.18 285.22,844.26 286.49,855.05 287.75,843.46 289.02,856.98 290.28,842.25 291.54,860.73 292.81,839.77 294.07,855.93 295.34,842.1 296.6,858.14 297.87,843.88 299.13,858.22 300.39,847.46 301.66,858.79 302.92,847.51 304.19,862.77 305.45,847.92 306.71,859.64 307.98,848.5 309.24,864.95 310.51,849.69 311.77,865.12 313.03,854.99 314.3,864.19 315.56,856.04 316.83,866.25 318.09,856.88 319.35,866.66 320.62,857.93 321.88,867.25 323.15,859.09 324.41,865.63 325.67,860.23 326.94,867.34 328.2,860.13 329.47,868.07 330.73,862.25 331.99,868.89 333.26,860.58 334.52,866.98 335.79,860.08 337.05,867.51 338.31,858.13 339.58,868.48 340.84,858.22 342.11,866.85 343.37,855.93 344.64,865.6 345.9,856.52 347.16,866.08 348.43,850.84 349.69,863.2 350.96,852.59 352.22,865.79 353.48,852.33 354.75,860.12 356.01,851.19 357.28,863.62 358.54,845.72 359.8,860.73 361.07,845.06 362.33,857.21 363.6,843.41 364.86,859.24 366.12,842.8 367.39,858.12 368.65,842.18 369.92,856.15 371.18,843.45 372.44,856.97 373.71,841.25 374.97,859.41 376.24,838.36 377.5,860.2 378.76,842.51 380.03,857.43 381.29,844.43 382.56,859.9 383.82,844.25 385.09,863.65 386.35,849.14 387.61,861.29 388.88,848.07 390.14,863.38 391.41,847.3 392.67,864.36 393.93,850.27 395.2,864.88 396.46,851.56 397.73,865.99 398.99,852.93 400.25,865.8 401.52,856.4 402.78,867.43 404.05,857.22 405.31,866.85 406.57,857.03 407.84,868.75 409.1,858.04 410.37,866.27 411.63,860.42 412.89,866.53 414.16,858.74 415.42,865.13 416.69,856.67 417.95,864.03 419.21,856.27 420.48,867.01 421.74,852.86 423.01,864.15 424.27,854.44 425.53,865.93 426.8,849.99 428.06,861.32 429.33,850.51 430.59,863 431.86,847.08 433.12,860.03 434.38,843.89 435.65,859.63 436.91,846.82 438.18,862.35 439.44,846.13 440.7,860.6 441.97,844.45 443.23,859.33 444.5,842.51 445.76,856.98 447.02,835.97 448.29,857.17 449.55,840.37 450.82,859.02 452.08,842.95 453.34,856.51 454.61,843.61 455.87,858.01 457.14,846.35 458.4,863.31 459.66,848.69 460.93,862.94 462.19,844.53 463.46,862.92 464.72,851.4 465.98,862.43 467.25,852.59 468.51,863.71 469.78,850.51 471.04,862.57 472.31,855.36 473.57,864.78 474.83,856.28 476.1,864.46 477.36,856.1 478.63,867.58 479.89,857.7 481.15,846.56 482.42,857.7 483.68,868.51 484.95,860.19 486.21,866.47 487.47,860.83 488.74,866.85 490,858.14 491.27,865.42 492.53,855.68 493.79,867.17 495.06,853.6 496.32,866.74 497.59,856.18 498.85,864.72 500.11,854.56 501.38,865.64 502.64,849.75 503.91,864.3 505.17,851.32 506.43,859.67 507.7,846.28 508.96,850.04 510.23,828.78 511.49,794 512.76,828.78 514.02,850.04 515.28,845.33 516.55,858.3 517.81,843.75 519.08,859.54 520.34,837.93 521.6,854.63 522.87,842.75 524.13,857.52 525.4,838.53 526.66,855.82 527.92,843.04 529.19,855.69 530.45,846.06 531.72,859.54 532.98,843.05 534.24,861.29 535.51,847.91 536.77,858.53 538.04,844.56 539.3,861.95 540.56,849.16 541.83,863.5 543.09,848.85 544.36,863.28 545.62,853.71 546.88,865.48 548.15,854.38 549.41,850.04 550.68,832.65 551.94,850.04 553.2,855.39 554.47,864.7 555.73,856.57 557,866.69 558.26,860.03 559.53,868.61 560.79,859.26 562.05,868.78 563.32,858.15 564.58,865.65 565.85,856.26 567.11,867.6 568.37,855.73 569.64,867.04 570.9,852.3 572.17,864.04 573.43,850.83 574.69,853.44 575.96,838.83 577.22,853.44 578.49,850.85 579.75,863.04 581.01,847.97 582.28,863.21 583.54,846.23 584.81,858.86 586.07,842.91 587.33,860.5 588.6,841.65 589.86,857.53 591.13,839.25 592.39,859.23 593.65,839.27 594.92,859.93 596.18,836.9 597.45,856.33 598.71,842.68 599.98,857.21 601.24,843.29 602.5,858.93 603.77,840.11 605.03,858.39 606.3,846.32 607.56,856.92 608.82,845.77 610.09,861.29 611.35,849.65 612.62,862.49 613.88,849.88 615.14,859.97 616.41,847.27 617.67,863.05 618.94,849.03 620.2,863.71" fill="none" stroke="#0000ff" stroke-width="1.25" stroke-linejoin="round" />
<line x1="275.53" y1="890" x2="275.53" y2="884.8" stroke="#000" stroke-width="3" /><line x1="275.53" y1="523.4" x2="275.53" y2="528.6" stroke="#000" stroke-width="3" /><line x1="447.87" y1="890" x2="447.87" y2="884.8" stroke="#000" stroke-width="3" /><line x1="447.87" y1="523.4" x2="447.87" y2="528.6" stroke="#000" stroke-width="3" /><line x1="103.2" y1="871.3" x2="108.4" y2="871.3" stroke="#000" stroke-width="3" /><line x1="620.2" y1="871.3" x2="615" y2="871.3" stroke="#000" stroke-width="3" /><line x1="103.2" y1="794" x2="108.4" y2="794" stroke="#000" stroke-width="3" /><line x1="620.2" y1="794" x2="615" y2="794" stroke="#000" stroke-width="3" /><line x1="103.2" y1="716.7" x2="108.4" y2="716.7" stroke="#000" stroke-width="3" /><line x1="620.2" y1="716.7" x2="615" y2="716.7" stroke="#000" stroke-width="3" /><line x1="103.2" y1="639.4" x2="108.4" y2="639.4" stroke="#000" stroke-width="3" /><line x1="620.2" y1="639.4" x2="615" y2="639.4" stroke="#000" stroke-width="3" /><line x1="103.2" y1="562.1" x2="108.4" y2="562.1" stroke="#000" stroke-width="3" /><line x1="620.2" y1="562.1" x2="615" y2="562.1" stroke="#000" stroke-width="3" /><rect x="103.2" y="523.4" width="517" height="366.6" fill="none" stroke="#000" stroke-width="3.2" />
<text x="0" y="0" font-size="32" font-weight="bold" text-anchor="end" fill="#000" transform="translate(92.5 883.5) scale(0.97 1)">0</text>
<text x="0" y="0" font-size="32" font-weight="bold" text-anchor="end" fill="#000" transform="translate(92.5 806.2) scale(0.97 1)">1</text>
<text x="0" y="0" font-size="32" font-weight="bold" text-anchor="end" fill="#000" transform="translate(92.5 728.9) scale(0.97 1)">2</text>
<text x="0" y="0" font-size="32" font-weight="bold" text-anchor="end" fill="#000" transform="translate(92.5 651.6) scale(0.97 1)">3</text>
<text x="0" y="0" font-size="32" font-weight="bold" text-anchor="end" fill="#000" transform="translate(92.5 574.3) scale(0.97 1)">4</text>
<text x="0" y="0" font-size="32" font-weight="bold" text-anchor="middle" fill="#000" transform="translate(103.2 933.7) scale(0.97 1)">1549</text>
<text x="0" y="0" font-size="32" font-weight="bold" text-anchor="middle" fill="#000" transform="translate(275.53 933.7) scale(0.97 1)">1550</text>
<text x="0" y="0" font-size="32" font-weight="bold" text-anchor="middle" fill="#000" transform="translate(447.87 933.7) scale(0.97 1)">1551</text>
<text x="0" y="0" font-size="32" font-weight="bold" text-anchor="middle" fill="#000" transform="translate(620.2 933.7) scale(0.97 1)">1552</text>
<text x="63" y="710" font-size="34.5" font-weight="bold" text-anchor="middle" fill="#000" transform="rotate(-90 63 710)">Intensity(a.u)</text>
<text x="0" y="0" font-size="35" font-weight="bold" text-anchor="middle" fill="#000" transform="translate(357 978.3) scale(0.985 1)">Wavelength(nm)</text>
<text x="407" y="580.8" font-size="32" font-weight="normal" text-anchor="start" fill="#000" textLength="130.5" lengthAdjust="spacingAndGlyphs">R=105nm</text>
<text x="414.5" y="671.5" font-size="32" font-weight="normal" text-anchor="start" fill="#ff00ff" textLength="113" lengthAdjust="spacingAndGlyphs">R=95nm</text>
<text x="229.5" y="750" font-size="32" font-weight="normal" text-anchor="start" fill="#ff0000" textLength="113" lengthAdjust="spacingAndGlyphs">R=82nm</text>
<text x="229.5" y="822.8" font-size="32" font-weight="normal" text-anchor="start" fill="#0000ff" textLength="113" lengthAdjust="spacingAndGlyphs">R=72nm</text>
</g>
<g id="panel-e">
<text x="667" y="533" font-size="64.5" font-weight="bold" text-anchor="start" fill="#000" textLength="34" lengthAdjust="spacingAndGlyphs">e</text>
<line x1="766.85" y1="833.99" x2="774.45" y2="841.59" stroke="#0000ff" stroke-width="2.8" /><line x1="766.85" y1="841.59" x2="774.45" y2="833.99" stroke="#0000ff" stroke-width="2.8" />
<line x1="797" y1="806.18" x2="804.6" y2="813.78" stroke="#0000ff" stroke-width="2.8" /><line x1="797" y1="813.78" x2="804.6" y2="806.18" stroke="#0000ff" stroke-width="2.8" />
<line x1="827.15" y1="790.44" x2="834.75" y2="798.04" stroke="#0000ff" stroke-width="2.8" /><line x1="827.15" y1="798.04" x2="834.75" y2="790.44" stroke="#0000ff" stroke-width="2.8" />
<line x1="856.64" y1="782.4" x2="864.24" y2="790" stroke="#0000ff" stroke-width="2.8" /><line x1="856.64" y1="790" x2="864.24" y2="782.4" stroke="#0000ff" stroke-width="2.8" />
<line x1="886.79" y1="787.76" x2="894.39" y2="795.36" stroke="#0000ff" stroke-width="2.8" /><line x1="886.79" y1="795.36" x2="894.39" y2="787.76" stroke="#0000ff" stroke-width="2.8" />
<line x1="916.94" y1="770.34" x2="924.54" y2="777.94" stroke="#0000ff" stroke-width="2.8" /><line x1="916.94" y1="777.94" x2="924.54" y2="770.34" stroke="#0000ff" stroke-width="2.8" />
<line x1="947.09" y1="735.83" x2="954.69" y2="743.43" stroke="#0000ff" stroke-width="2.8" /><line x1="947.09" y1="743.43" x2="954.69" y2="735.83" stroke="#0000ff" stroke-width="2.8" />
<line x1="976.9" y1="593.79" x2="984.5" y2="601.39" stroke="#0000ff" stroke-width="2.8" /><line x1="976.9" y1="601.39" x2="984.5" y2="593.79" stroke="#0000ff" stroke-width="2.8" />
<line x1="1007.05" y1="606.18" x2="1014.65" y2="613.78" stroke="#0000ff" stroke-width="2.8" /><line x1="1007.05" y1="613.78" x2="1014.65" y2="606.18" stroke="#0000ff" stroke-width="2.8" />
<line x1="1037.21" y1="674.19" x2="1044.81" y2="681.79" stroke="#0000ff" stroke-width="2.8" /><line x1="1037.21" y1="681.79" x2="1044.81" y2="674.19" stroke="#0000ff" stroke-width="2.8" />
<line x1="1067.02" y1="805.51" x2="1074.62" y2="813.11" stroke="#0000ff" stroke-width="2.8" /><line x1="1067.02" y1="813.11" x2="1074.62" y2="805.51" stroke="#0000ff" stroke-width="2.8" />
<line x1="1097.17" y1="832.98" x2="1104.77" y2="840.58" stroke="#0000ff" stroke-width="2.8" /><line x1="1097.17" y1="840.58" x2="1104.77" y2="832.98" stroke="#0000ff" stroke-width="2.8" />
<line x1="1126.99" y1="837" x2="1134.59" y2="844.6" stroke="#0000ff" stroke-width="2.8" /><line x1="1126.99" y1="844.6" x2="1134.59" y2="837" stroke="#0000ff" stroke-width="2.8" />
<line x1="1157.14" y1="846.72" x2="1164.74" y2="854.32" stroke="#0000ff" stroke-width="2.8" /><line x1="1157.14" y1="854.32" x2="1164.74" y2="846.72" stroke="#0000ff" stroke-width="2.8" />
<line x1="1187.29" y1="839.68" x2="1194.89" y2="847.28" stroke="#0000ff" stroke-width="2.8" /><line x1="1187.29" y1="847.28" x2="1194.89" y2="839.68" stroke="#0000ff" stroke-width="2.8" />
<line x1="1217.44" y1="839.68" x2="1225.04" y2="847.28" stroke="#0000ff" stroke-width="2.8" /><line x1="1217.44" y1="847.28" x2="1225.04" y2="839.68" stroke="#0000ff" stroke-width="2.8" />
<line x1="1247.26" y1="838.68" x2="1254.86" y2="846.28" stroke="#0000ff" stroke-width="2.8" /><line x1="1247.26" y1="846.28" x2="1254.86" y2="838.68" stroke="#0000ff" stroke-width="2.8" />
<polyline points="770.7,837.2 771.7,837.15 772.7,837.1 773.7,837.05 774.7,837 775.7,836.94 776.7,836.89 777.7,836.84 778.71,836.78 779.71,836.72 780.71,836.67 781.71,836.61 782.71,836.55 783.71,836.49 784.71,836.42 785.71,836.36 786.71,836.3 787.71,836.23 788.71,836.16 789.71,836.09 790.71,836.03 791.71,835.95 792.71,835.88 793.71,835.81 794.72,835.73 795.72,835.66 796.72,835.58 797.72,835.5 798.72,835.42 799.72,835.33 800.72,835.25 801.72,835.16 802.72,835.08 803.72,834.99 804.72,834.9 805.72,834.8 806.72,834.71 807.72,834.61 808.72,834.52 809.72,834.42 810.73,834.32 811.73,834.21 812.73,834.11 813.73,834 814.73,833.89 815.73,833.78 816.73,833.66 817.73,833.55 818.73,833.43 819.73,833.31 820.73,833.19 821.73,833.06 822.73,832.93 823.73,832.8 824.73,832.67 825.73,832.54 826.74,832.4 827.74,832.26 828.74,832.12 829.74,831.97 830.74,831.82 831.74,831.67 832.74,831.52 833.74,831.36 834.74,831.2 835.74,831.03 836.74,830.87 837.74,830.7 838.74,830.52 839.74,830.35 840.74,830.17 841.74,829.98 842.75,829.79 843.75,829.6 844.75,829.41 845.75,829.21 846.75,829 847.75,828.79 848.75,828.58 849.75,828.37 850.75,828.15 851.75,827.92 852.75,827.69 853.75,827.45 854.75,827.21 855.75,826.97 856.75,826.72 857.75,826.46 858.75,826.2 859.76,825.94 860.76,825.67 861.76,825.39 862.76,825.11 863.76,824.82 864.76,824.52 865.76,824.22 866.76,823.91 867.76,823.59 868.76,823.27 869.76,822.94 870.76,822.6 871.76,822.26 872.76,821.91 873.76,821.55 874.77,821.18 875.77,820.8 876.77,820.42 877.77,820.02 878.77,819.62 879.77,819.21 880.77,818.79 881.77,818.36 882.77,817.91 883.77,817.46 884.77,817 885.77,816.53 886.77,816.04 887.77,815.54 888.77,815.04 889.77,814.52 890.78,813.98 891.78,813.44 892.78,812.88 893.78,812.3 894.78,811.72 895.78,811.11 896.78,810.5 897.78,809.86 898.78,809.21 899.78,808.55 900.78,807.87 901.78,807.17 902.78,806.45 903.78,805.71 904.78,804.96 905.78,804.18 906.79,803.39 907.79,802.57 908.79,801.73 909.79,800.87 910.79,799.99 911.79,799.08 912.79,798.15 913.79,797.19 914.79,796.21 915.79,795.2 916.79,794.16 917.79,793.09 918.79,792 919.79,790.87 920.79,789.71 921.79,788.52 922.8,787.29 923.8,786.03 924.8,784.74 925.8,783.4 926.8,782.03 927.8,780.62 928.8,779.17 929.8,777.67 930.8,776.13 931.8,774.55 932.8,772.92 933.8,771.24 934.8,769.52 935.8,767.74 936.8,765.91 937.8,764.02 938.81,762.08 939.81,760.08 940.81,758.03 941.81,755.91 942.81,753.73 943.81,751.48 944.81,749.17 945.81,746.79 946.81,744.34 947.81,741.82 948.81,739.23 949.81,736.56 950.81,733.82 951.81,731 952.81,728.1 953.81,725.11 954.82,722.05 955.82,718.9 956.82,715.67 957.82,712.36 958.82,708.96 959.82,705.47 960.82,701.9 961.82,698.25 962.82,694.51 963.82,690.69 964.82,686.78 965.82,682.8 966.82,678.74 967.82,674.61 968.82,670.41 969.82,666.14 970.83,661.82 971.83,657.44 972.83,653.02 973.83,648.56 974.83,644.07 975.83,639.56 976.83,635.05 977.83,630.54 978.83,626.04 979.83,621.58 980.83,617.17 981.83,612.82 982.83,608.55 983.83,604.37 984.83,600.31 985.83,596.39 986.84,592.62 987.84,589.02 988.84,585.62 989.84,582.42 990.84,579.46 991.84,576.75 992.84,574.3 993.84,572.13 994.84,570.26 995.84,568.69 996.84,567.45 997.84,566.53 998.84,565.95 999.84,565.71 1000.84,565.85 1001.84,566.51 1002.85,567.69 1003.85,569.38 1004.85,571.55 1005.85,574.19 1006.85,577.27 1007.85,580.75 1008.85,584.61 1009.85,588.82 1010.85,593.32 1011.85,598.09 1012.85,603.09 1013.85,608.29 1014.85,613.64 1015.85,619.11 1016.85,624.68 1017.85,630.31 1018.86,635.97 1019.86,641.64 1020.86,647.29 1021.86,652.91 1022.86,658.47 1023.86,663.97 1024.86,669.38 1025.86,674.7 1026.86,679.92 1027.86,685.02 1028.86,690 1029.86,694.86 1030.86,699.59 1031.86,704.2 1032.86,708.67 1033.86,713.01 1034.87,717.22 1035.87,721.3 1036.87,725.25 1037.87,729.07 1038.87,732.77 1039.87,736.34 1040.87,739.79 1041.87,743.13 1042.87,746.35 1043.87,749.47 1044.87,752.47 1045.87,755.37 1046.87,758.17 1047.87,760.87 1048.87,763.48 1049.87,766 1050.88,768.43 1051.88,770.78 1052.88,773.04 1053.88,775.23 1054.88,777.34 1055.88,779.38 1056.88,781.35 1057.88,783.25 1058.88,785.09 1059.88,786.86 1060.88,788.58 1061.88,790.24 1062.88,791.84 1063.88,793.4 1064.88,794.9 1065.88,796.35 1066.88,797.75 1067.89,799.12 1068.89,800.43 1069.89,801.71 1070.89,802.94 1071.89,804.14 1072.89,805.3 1073.89,806.43 1074.89,807.52 1075.89,808.57 1076.89,809.6 1077.89,810.6 1078.89,811.56 1079.89,812.5 1080.89,813.41 1081.89,814.3 1082.89,815.15 1083.9,815.99 1084.9,816.8 1085.9,817.59 1086.9,818.36 1087.9,819.1 1088.9,819.83 1089.9,820.54 1090.9,821.22 1091.9,821.89 1092.9,822.54 1093.9,823.18 1094.9,823.8 1095.9,824.4 1096.9,824.99 1097.9,825.56 1098.9,826.12 1099.91,826.66 1100.91,827.2 1101.91,827.71 1102.91,828.22 1103.91,828.71 1104.91,829.19 1105.91,829.67 1106.91,830.13 1107.91,830.57 1108.91,831.01 1109.91,831.44 1110.91,831.86 1111.91,832.27 1112.91,832.67 1113.91,833.06 1114.91,833.45 1115.92,833.82 1116.92,834.19 1117.92,834.55 1118.92,834.9 1119.92,835.24 1120.92,835.58 1121.92,835.91 1122.92,836.24 1123.92,836.55 1124.92,836.86 1125.92,837.17 1126.92,837.47 1127.92,837.76 1128.92,838.05 1129.92,838.33 1130.92,838.6 1131.93,838.88 1132.93,839.14 1133.93,839.4 1134.93,839.66 1135.93,839.91 1136.93,840.16 1137.93,840.4 1138.93,840.64 1139.93,840.87 1140.93,841.1 1141.93,841.33 1142.93,841.55 1143.93,841.77 1144.93,841.98 1145.93,842.19 1146.93,842.4 1147.94,842.61 1148.94,842.81 1149.94,843 1150.94,843.2 1151.94,843.39 1152.94,843.58 1153.94,843.76 1154.94,843.95 1155.94,844.12 1156.94,844.3 1157.94,844.48 1158.94,844.65 1159.94,844.82 1160.94,844.98 1161.94,845.15 1162.94,845.31 1163.95,845.47 1164.95,845.62 1165.95,845.78 1166.95,845.93 1167.95,846.08 1168.95,846.23 1169.95,846.38 1170.95,846.52 1171.95,846.66 1172.95,846.8 1173.95,846.94 1174.95,847.08 1175.95,847.21 1176.95,847.35 1177.95,847.48 1178.95,847.61 1179.96,847.74 1180.96,847.86 1181.96,847.99 1182.96,848.11 1183.96,848.23 1184.96,848.36 1185.96,848.47 1186.96,848.59 1187.96,848.71 1188.96,848.82 1189.96,848.94 1190.96,849.05 1191.96,849.16 1192.96,849.27 1193.96,849.38 1194.97,849.49 1195.97,849.59 1196.97,849.7 1197.97,849.8 1198.97,849.9 1199.97,850 1200.97,850.11 1201.97,850.2 1202.97,850.3 1203.97,850.4 1204.97,850.5 1205.97,850.59 1206.97,850.69 1207.97,850.78 1208.97,850.87 1209.97,850.96 1210.97,851.06 1211.98,851.15 1212.98,851.23 1213.98,851.32 1214.98,851.41 1215.98,851.5 1216.98,851.58 1217.98,851.67 1218.98,851.75 1219.98,851.84 1220.98,851.92 1221.98,852 1222.98,852.08 1223.98,852.16 1224.98,852.24 1225.98,852.32 1226.99,852.4 1227.99,852.48 1228.99,852.56 1229.99,852.63 1230.99,852.71 1231.99,852.78 1232.99,852.86 1233.99,852.93 1234.99,853.01 1235.99,853.08 1236.99,853.15 1237.99,853.22 1238.99,853.29 1239.99,853.36 1240.99,853.44 1241.99,853.5 1242.99,853.57 1244,853.64 1245,853.71 1246,853.78 1247,853.85 1248,853.91 1249,853.98 1250,854.04 1251,854.11" fill="none" stroke="#ff0000" stroke-width="2.9" stroke-linejoin="round" />
<line x1="890.77" y1="888.3" x2="890.77" y2="883.1" stroke="#000" stroke-width="3" /><line x1="890.77" y1="533" x2="890.77" y2="538.2" stroke="#000" stroke-width="3" /><line x1="1010.85" y1="888.3" x2="1010.85" y2="883.1" stroke="#000" stroke-width="3" /><line x1="1010.85" y1="533" x2="1010.85" y2="538.2" stroke="#000" stroke-width="3" /><line x1="1130.93" y1="888.3" x2="1130.93" y2="883.1" stroke="#000" stroke-width="3" /><line x1="1130.93" y1="533" x2="1130.93" y2="538.2" stroke="#000" stroke-width="3" /><line x1="770.7" y1="856.4" x2="775.9" y2="856.4" stroke="#000" stroke-width="3" /><line x1="1251" y1="856.4" x2="1245.8" y2="856.4" stroke="#000" stroke-width="3" /><line x1="770.7" y1="791.8" x2="775.9" y2="791.8" stroke="#000" stroke-width="3" /><line x1="1251" y1="791.8" x2="1245.8" y2="791.8" stroke="#000" stroke-width="3" /><line x1="770.7" y1="727.2" x2="775.9" y2="727.2" stroke="#000" stroke-width="3" /><line x1="1251" y1="727.2" x2="1245.8" y2="727.2" stroke="#000" stroke-width="3" /><line x1="770.7" y1="662.6" x2="775.9" y2="662.6" stroke="#000" stroke-width="3" /><line x1="1251" y1="662.6" x2="1245.8" y2="662.6" stroke="#000" stroke-width="3" /><line x1="770.7" y1="598" x2="775.9" y2="598" stroke="#000" stroke-width="3" /><line x1="1251" y1="598" x2="1245.8" y2="598" stroke="#000" stroke-width="3" /><rect x="770.7" y="533" width="480.3" height="355.3" fill="none" stroke="#000" stroke-width="3.2" />
<text x="0" y="0" font-size="35.6" font-weight="bold" text-anchor="end" fill="#000" transform="translate(758 611.5) scale(0.94 1)">1</text>
<text x="0" y="0" font-size="35.6" font-weight="bold" text-anchor="end" fill="#000" transform="translate(758 676.1) scale(0.94 1)">0.8</text>
<text x="0" y="0" font-size="35.6" font-weight="bold" text-anchor="end" fill="#000" transform="translate(758 740.7) scale(0.94 1)">0.6</text>
<text x="0" y="0" font-size="35.6" font-weight="bold" text-anchor="end" fill="#000" transform="translate(758 805.3) scale(0.94 1)">0.4</text>
<text x="0" y="0" font-size="35.6" font-weight="bold" text-anchor="end" fill="#000" transform="translate(758 869.9) scale(0.94 1)">0.2</text>
<text x="0" y="0" font-size="35.6" font-weight="bold" text-anchor="middle" fill="#000" transform="translate(770.7 934.6) scale(0.955 1)">1551.35</text>
<text x="0" y="0" font-size="35.6" font-weight="bold" text-anchor="middle" fill="#000" transform="translate(1010.85 934.6) scale(0.955 1)">1551.37</text>
<text x="0" y="0" font-size="35.6" font-weight="bold" text-anchor="middle" fill="#000" transform="translate(1251 934.6) scale(0.955 1)">1551.39</text>
<text x="699" y="712" font-size="37" font-weight="bold" text-anchor="middle" fill="#000" transform="rotate(-90 699 712)">Intensity(a.u)</text>
<text x="1008.5" y="982.8" font-size="37" font-weight="bold" text-anchor="middle" fill="#000">Wavelength(nm)</text>
<rect x="782.4" y="548.7" width="112.2" height="84.3" fill="#ffffff" stroke="#000" stroke-width="2.7" />
<line x1="801" y1="567.4" x2="808.6" y2="575" stroke="#0000ff" stroke-width="2.8" /><line x1="801" y1="575" x2="808.6" y2="567.4" stroke="#0000ff" stroke-width="2.8" />
<text x="0" y="0" font-size="32.6" font-weight="bold" text-anchor="start" fill="#000" transform="translate(827 584.5) scale(0.95 1)">EXP</text>
<line x1="787.4" y1="611.3" x2="823.6" y2="611.3" stroke="#ff0000" stroke-width="2.6" />
<text x="0" y="0" font-size="32.6" font-weight="bold" text-anchor="start" fill="#000" transform="translate(827 624.6) scale(0.95 1)">FIT</text>
</g>
<g id="panel-f">
<text x="1270" y="533" font-size="62" font-weight="bold" text-anchor="start" fill="#000" textLength="21" lengthAdjust="spacingAndGlyphs">f</text>
<rect x="1442.5" y="536" width="5" height="366.5" fill="#ffffff" stroke="none" stroke-width="1" /><line x1="1442.6" y1="536" x2="1442.6" y2="902.5" stroke="#b4b4b4" stroke-width="1" /><line x1="1447.4" y1="536" x2="1447.4" y2="902.5" stroke="#b4b4b4" stroke-width="1" /><line x1="1445" y1="536" x2="1445" y2="902.5" stroke="#000" stroke-width="3.6" stroke-dasharray="14.5 14.5" stroke-dashoffset="12"/>
<rect x="1568.7" y="536" width="5" height="366.5" fill="#ffffff" stroke="none" stroke-width="1" /><line x1="1568.8" y1="536" x2="1568.8" y2="902.5" stroke="#4a4a4a" stroke-width="1" /><line x1="1571.2" y1="536" x2="1571.2" y2="902.5" stroke="#000" stroke-width="3.6" stroke-dasharray="14.5 14.5" stroke-dashoffset="11.4"/>
<rect x="1694.9" y="536" width="5" height="366.5" fill="#ffffff" stroke="none" stroke-width="1" /><line x1="1695" y1="536" x2="1695" y2="902.5" stroke="#b4b4b4" stroke-width="1" /><line x1="1699.8" y1="536" x2="1699.8" y2="902.5" stroke="#b4b4b4" stroke-width="1" /><line x1="1697.4" y1="536" x2="1697.4" y2="902.5" stroke="#000" stroke-width="3.6" stroke-dasharray="14.5 14.5" stroke-dashoffset="12"/>
<rect x="1821.1" y="536" width="5" height="366.5" fill="#ffffff" stroke="none" stroke-width="1" /><line x1="1826" y1="536" x2="1826" y2="902.5" stroke="#4a4a4a" stroke-width="1" /><line x1="1823.6" y1="536" x2="1823.6" y2="902.5" stroke="#000" stroke-width="3.6" stroke-dasharray="14.5 14.5" stroke-dashoffset="11.4"/>
<rect x="1381.8" y="655.67" width="567.5" height="5" fill="#ffffff" stroke="none" stroke-width="1" /><line x1="1381.8" y1="655.77" x2="1949.3" y2="655.77" stroke="#b4b4b4" stroke-width="1" /><line x1="1381.8" y1="660.57" x2="1949.3" y2="660.57" stroke="#b4b4b4" stroke-width="1" /><line x1="1381.8" y1="658.17" x2="1949.3" y2="658.17" stroke="#000" stroke-width="3.6" stroke-dasharray="14.5 14.5" stroke-dashoffset="13.4"/>
<rect x="1381.8" y="777.83" width="567.5" height="5" fill="#ffffff" stroke="none" stroke-width="1" /><line x1="1381.8" y1="777.93" x2="1949.3" y2="777.93" stroke="#b4b4b4" stroke-width="1" /><line x1="1381.8" y1="782.73" x2="1949.3" y2="782.73" stroke="#b4b4b4" stroke-width="1" /><line x1="1381.8" y1="780.33" x2="1949.3" y2="780.33" stroke="#000" stroke-width="3.6" stroke-dasharray="14.5 14.5" stroke-dashoffset="13.4"/>
<rect x="1426.3" y="610.9" width="100.4" height="291.6" fill="#fe0000" stroke="#3a0000" stroke-width="0.9" />
<rect x="1552.2" y="730.4" width="100.7" height="172.1" fill="#fe0000" stroke="#3a0000" stroke-width="0.9" />
<rect x="1709.3" y="832.6" width="101.2" height="69.9" fill="#fe0000" stroke="#3a0000" stroke-width="0.9" />
<rect x="1835.7" y="872.2" width="101" height="30.3" fill="#fe0000" stroke="#3a0000" stroke-width="0.9" />
<polyline points="1383,553 1405,582 1428,611.4 1445,632.7 1485,669 1526.7,703.2 1568.3,730.4 1600,747.5 1632,762.8 1660,775.6 1697,788.7 1730,799 1760.3,808 1790,814.8 1823.3,821.6 1880,832 1947.4,842" fill="none" stroke="#0000ff" stroke-width="1.7" stroke-linejoin="round" stroke-dasharray="10 5"/>
<line x1="1445" y1="902.5" x2="1445" y2="896.7" stroke="#000" stroke-width="3.4" /><line x1="1445" y1="536" x2="1445" y2="541.8" stroke="#000" stroke-width="3.4" /><line x1="1571.2" y1="902.5" x2="1571.2" y2="896.7" stroke="#000" stroke-width="3.4" /><line x1="1571.2" y1="536" x2="1571.2" y2="541.8" stroke="#000" stroke-width="3.4" /><line x1="1697.4" y1="902.5" x2="1697.4" y2="896.7" stroke="#000" stroke-width="3.4" /><line x1="1697.4" y1="536" x2="1697.4" y2="541.8" stroke="#000" stroke-width="3.4" /><line x1="1823.6" y1="902.5" x2="1823.6" y2="896.7" stroke="#000" stroke-width="3.4" /><line x1="1823.6" y1="536" x2="1823.6" y2="541.8" stroke="#000" stroke-width="3.4" /><line x1="1381.8" y1="780.33" x2="1387.6" y2="780.33" stroke="#000" stroke-width="3.4" /><line x1="1949.3" y1="780.33" x2="1943.5" y2="780.33" stroke="#000" stroke-width="3.4" /><line x1="1381.8" y1="658.17" x2="1387.6" y2="658.17" stroke="#000" stroke-width="3.4" /><line x1="1949.3" y1="658.17" x2="1943.5" y2="658.17" stroke="#000" stroke-width="3.4" /><rect x="1381.8" y="536" width="567.5" height="366.5" fill="none" stroke="#000" stroke-width="3.6" />
<text x="1371.5" y="919" font-size="36.5" font-weight="bold" text-anchor="end" fill="#000">0</text>
<text x="1371.5" y="796.83" font-size="36.5" font-weight="bold" text-anchor="end" fill="#000">1</text>
<text x="1371.5" y="674.67" font-size="36.5" font-weight="bold" text-anchor="end" fill="#000">2</text>
<text x="1371.5" y="552.5" font-size="36.5" font-weight="bold" text-anchor="end" fill="#000">3</text>
<text x="1445" y="951.5" font-size="36.5" font-weight="bold" text-anchor="middle" fill="#000">70</text>
<text x="1571.2" y="951.5" font-size="36.5" font-weight="bold" text-anchor="middle" fill="#000">80</text>
<text x="1697.4" y="951.5" font-size="36.5" font-weight="bold" text-anchor="middle" fill="#000">90</text>
<text x="1823.6" y="951.5" font-size="36.5" font-weight="bold" text-anchor="middle" fill="#000">100</text>
<text x="1949.8" y="951.5" font-size="36.5" font-weight="bold" text-anchor="middle" fill="#000">110</text>
<text x="1340.6" y="718" font-size="40" font-weight="bold" text-anchor="middle" fill="#000" transform="rotate(-90 1340.6 718)">Q-factor</text>
<text x="1666" y="1001.3" font-size="39.5" font-weight="bold" text-anchor="middle" fill="#000">Radius(nm)</text>
<text x="1383.5" y="533" font-size="44" font-weight="normal" text-anchor="start" fill="#000">×</text>
<text x="1412.5" y="530" font-size="36.5" font-weight="bold" text-anchor="start" fill="#000">10</text>
<text x="1454" y="512.8" font-size="28" font-weight="bold" text-anchor="start" fill="#000">5</text>
<rect x="1656.6" y="488.5" width="72.1" height="32.5" fill="#fe0000" stroke="none" stroke-width="1" />
<text x="1744" y="516.5" font-size="30" font-weight="bold" text-anchor="start" fill="#000" textLength="56.5" lengthAdjust="spacingAndGlyphs">Exp</text>
<line x1="1828.6" y1="505" x2="1877.8" y2="505" stroke="#0000ff" stroke-width="2" stroke-dasharray="11 6.5"/>
<text x="1882.6" y="516.5" font-size="30" font-weight="bold" text-anchor="start" fill="#000" textLength="56.5" lengthAdjust="spacingAndGlyphs">Sim</text>
</g>
<g id="panel-g">
<text x="11" y="1041" font-size="62" font-weight="bold" text-anchor="start" fill="#000" textLength="33" lengthAdjust="spacingAndGlyphs">g</text>
<polyline points="155.4,1365.65 156.21,1393.78 157.02,1362.65 157.83,1392.03 158.65,1362.45 159.46,1406.76 160.27,1353.24 161.08,1386.36 161.89,1363.73 162.7,1400.44 163.52,1361.23 164.33,1387.34 165.14,1360.95 165.95,1397.01 166.76,1343.32 167.57,1405.16 168.39,1346.1 169.2,1392.56 170.01,1345.34 170.82,1391.1 171.63,1348.63 172.44,1404.8 173.26,1323.06 174.07,1356.89 174.88,1294.62 175.69,1398.78 176.5,1239.91 177.31,1393.88 178.13,1252.29 178.94,1394.01 179.75,1315.53 180.56,1391.3 181.37,1359.35 182.18,1394.91 183,1365.04 183.81,1392.8 184.62,1349.5 185.43,1403.96 186.24,1347.78 187.05,1409.73 187.87,1357.04 188.68,1408.93 189.49,1362.98 190.3,1395.44" fill="none" stroke="#0000ff" stroke-width="1.2" stroke-linejoin="round" />
<polyline points="175.8,1308.33 176.2,1199.88 176.7,1071.1 177.2,1199.88 177.6,1308.33" fill="none" stroke="#0000ff" stroke-width="1.2" stroke-linejoin="round" />
<polyline points="239.3,1316.14 239.86,1388.64 240.41,1303.36 240.97,1397.93 241.52,1292.78 242.08,1389.08 242.64,1307.18 243.19,1407 243.75,1318.21 244.3,1390.15 244.86,1289.42 245.42,1407.14 245.97,1288.67 246.53,1409.52 247.08,1316.99 247.64,1406.13 248.2,1309.05 248.75,1390.68 249.31,1295.98 249.86,1391.73 250.42,1300.59 250.98,1404.21 251.53,1306.28 252.09,1408.35 252.64,1303.96 253.2,1393.34 253.76,1315.72 254.31,1408.85 254.87,1309.29 255.42,1409.14 255.98,1318.29 256.54,1387.42 257.09,1303.5 257.65,1395.34 258.2,1302.48 258.76,1401.08 259.32,1296.45 259.87,1397.91 260.43,1300.07 260.98,1406.73 261.54,1310.94 262.1,1387.43 262.65,1300.41 263.21,1402.51 263.76,1289 264.32,1395.33 264.88,1302.97 265.43,1380.32 265.99,1264.89 266.54,1361.41 267.1,1243.48 267.66,1382.24 268.21,1233.3 268.77,1379.36 269.32,1213.78 269.88,1356.35 270.44,1288.7 270.99,1373.77 271.55,1307.36 272.1,1392.16 272.66,1313.07 273.22,1388.17 273.77,1307 274.33,1397.66 274.88,1314.58 275.44,1405.32 276,1315.81 276.55,1389.89 277.11,1254.11 277.66,1403.61 278.22,1313.8 278.78,1397.31 279.33,1314.74 279.89,1399.44 280.44,1310.71 281,1386.39" fill="none" stroke="#ff0000" stroke-width="1.25" stroke-linejoin="round" />
<polyline points="266.9,1308.33 267.3,1199.88 267.8,1071.1 268.3,1199.88 268.7,1308.33" fill="none" stroke="#ff0000" stroke-width="1.2" stroke-linejoin="round" />
<polyline points="333.2,1378.55 333.75,1403.42 334.3,1377.44 334.85,1405.58 335.41,1377.44 335.96,1387.08 336.51,1379.12 337.06,1394.92 337.61,1382.19 338.16,1408.75 338.71,1378.04 339.26,1389.92 339.82,1373.7 340.37,1407.22 340.92,1385.52 341.47,1404.94 342.02,1374.12 342.57,1402.37 343.12,1382.99 343.67,1397.55 344.23,1382.15 344.78,1407.39 345.33,1385.83 345.88,1396.72 346.43,1384.6 346.98,1402.49 347.53,1385.5 348.08,1405.43 348.64,1377.42 349.19,1401.51 349.74,1378.97 350.29,1408.33 350.84,1379.75 351.39,1407.37 351.94,1374.45 352.49,1399.48 353.05,1382 353.6,1406.13 354.15,1379.57 354.7,1407.93 355.25,1378.12 355.8,1399.99 356.35,1379.4 356.91,1387.18 357.46,1340.64 358.01,1369.46 358.56,1314.07 359.11,1364.81 359.66,1220.03 360.21,1398.85 360.76,1215.64 361.32,1376 361.87,1217.11 362.42,1402.23 362.97,1320.1 363.52,1362.08 364.07,1257.49 364.62,1389.54 365.17,1377.89 365.73,1402.11 366.28,1381.68 366.83,1405.2 367.38,1385.16 367.93,1407.62 368.48,1380.66 369.03,1397.08 369.58,1380.04 370.14,1409.44 370.69,1385.21 371.24,1404.01 371.79,1382.12 372.34,1399.35 372.89,1381.09 373.44,1404.68 373.99,1385.7 374.55,1401.8 375.1,1384.69 375.65,1387.31 376.2,1381.78" fill="none" stroke="#ff00ff" stroke-width="1.25" stroke-linejoin="round" />
<polyline points="359.7,1308.33 360.1,1199.88 360.6,1071.1 361.1,1199.88 361.5,1308.33" fill="none" stroke="#ff00ff" stroke-width="1.2" stroke-linejoin="round" />
<polyline points="426.2,1324.29 426.75,1378.51 427.3,1312.32 427.85,1389.77 428.41,1331.84 428.96,1396.16 429.51,1332.93 430.06,1381.98 430.61,1339.29 431.16,1386.74 431.71,1313.79 432.26,1385.87 432.82,1320.64 433.37,1394.95 433.92,1324.08 434.47,1390.53 435.02,1327.85 435.57,1386.05 436.12,1316.85 436.67,1397.06 437.23,1332.63 437.78,1390.21 438.33,1315.9 438.88,1397.69 439.43,1317.11 439.98,1388.88 440.53,1337.78 441.08,1392.81 441.64,1339.9 442.19,1387.39 442.74,1328.45 443.29,1392.49 443.84,1324.21 444.39,1376.93 444.94,1321.57 445.49,1382.42 446.05,1330.83 446.6,1382.24 447.15,1298.16 447.7,1377.68 448.25,1321.39 448.8,1398.46 449.35,1333.08 449.91,1356.85 450.46,1303.31 451.01,1354.44 451.56,1279.09 452.11,1359.65 452.66,1237.15 453.21,1374.46 453.76,1220.82 454.32,1347.74 454.87,1247.11 455.42,1379.73 455.97,1278.66 456.52,1347.12 457.07,1310.45 457.62,1392.78 458.17,1312.29 458.73,1399 459.28,1331.88 459.83,1398.96 460.38,1340.09 460.93,1385.56 461.48,1312.85 462.03,1379.75 462.58,1327.49 463.14,1389.26 463.69,1338.96 464.24,1376.3 464.79,1316.8 465.34,1387.23 465.89,1319.34 466.44,1392.38 466.99,1338.5 467.55,1394.51 468.1,1335.52 468.65,1394.59 469.2,1318.94" fill="none" stroke="#000000" stroke-width="1.25" stroke-linejoin="round" />
<polyline points="452.5,1308.33 452.9,1199.88 453.4,1071.1 453.9,1199.88 454.3,1308.33" fill="none" stroke="#000000" stroke-width="1.2" stroke-linejoin="round" />
<polyline points="523.3,1348.01 523.86,1382.7 524.41,1353.35 524.97,1385.49 525.52,1343.81 526.08,1394.52 526.63,1344.58 527.19,1394.58 527.74,1339.74 528.3,1394.34 528.85,1328.66 529.41,1397.66 529.96,1352.56 530.52,1401.48 531.07,1341.96 531.63,1401.4 532.18,1340.67 532.74,1380.15 533.29,1349.09 533.85,1396.94 534.4,1347.07 534.96,1385.27 535.51,1341.09 536.07,1390.21 536.62,1357.18 537.18,1392.73 537.73,1345.32 538.29,1398.02 538.84,1343.18 539.4,1387.44 539.95,1357.24 540.51,1400.16 541.06,1341.02 541.62,1388.6 542.17,1326.16 542.73,1367.09 543.28,1295.21 543.84,1392.39 544.39,1257.33 544.95,1363.4 545.51,1246.78 546.06,1349.05 546.62,1227.11 547.17,1391.78 547.73,1291.99 548.28,1389.57 548.84,1351.05 549.39,1390.32 549.95,1348.95 550.5,1399.72 551.06,1350.19 551.61,1382.62 552.17,1347.16 552.72,1394.72 553.28,1350.63 553.83,1384.35 554.39,1351.64 554.94,1402 555.5,1352.59 556.05,1393.98 556.61,1343.51 557.16,1383.12 557.72,1342.03 558.27,1402.95 558.83,1344.05 559.38,1400.31 559.94,1343.97 560.49,1389.33 561.05,1357.34 561.6,1385.19 562.16,1346.95 562.71,1392.58 563.27,1342.26 563.82,1401.53 564.38,1356.73 564.93,1402.15 565.49,1355.09 566.04,1394.32 566.6,1338.94" fill="none" stroke="#00ff00" stroke-width="1.25" stroke-linejoin="round" />
<polyline points="544.3,1308.33 544.7,1199.88 545.2,1071.1 545.7,1199.88 546.1,1308.33" fill="none" stroke="#00ff00" stroke-width="1.2" stroke-linejoin="round" />
<line x1="232.2" y1="1425.7" x2="232.2" y2="1420.5" stroke="#000" stroke-width="3" /><line x1="232.2" y1="1054" x2="232.2" y2="1059.2" stroke="#000" stroke-width="3" /><line x1="401.8" y1="1425.7" x2="401.8" y2="1420.5" stroke="#000" stroke-width="3" /><line x1="401.8" y1="1054" x2="401.8" y2="1059.2" stroke="#000" stroke-width="3" /><line x1="571.4" y1="1425.7" x2="571.4" y2="1420.5" stroke="#000" stroke-width="3" /><line x1="571.4" y1="1054" x2="571.4" y2="1059.2" stroke="#000" stroke-width="3" /><line x1="104.9" y1="1410" x2="110.1" y2="1410" stroke="#000" stroke-width="3" /><line x1="613.4" y1="1410" x2="608.2" y2="1410" stroke="#000" stroke-width="3" /><line x1="104.9" y1="1342.22" x2="110.1" y2="1342.22" stroke="#000" stroke-width="3" /><line x1="613.4" y1="1342.22" x2="608.2" y2="1342.22" stroke="#000" stroke-width="3" /><line x1="104.9" y1="1274.44" x2="110.1" y2="1274.44" stroke="#000" stroke-width="3" /><line x1="613.4" y1="1274.44" x2="608.2" y2="1274.44" stroke="#000" stroke-width="3" /><line x1="104.9" y1="1206.66" x2="110.1" y2="1206.66" stroke="#000" stroke-width="3" /><line x1="613.4" y1="1206.66" x2="608.2" y2="1206.66" stroke="#000" stroke-width="3" /><line x1="104.9" y1="1138.88" x2="110.1" y2="1138.88" stroke="#000" stroke-width="3" /><line x1="613.4" y1="1138.88" x2="608.2" y2="1138.88" stroke="#000" stroke-width="3" /><line x1="104.9" y1="1071.1" x2="110.1" y2="1071.1" stroke="#000" stroke-width="3" /><line x1="613.4" y1="1071.1" x2="608.2" y2="1071.1" stroke="#000" stroke-width="3" /><rect x="104.9" y="1054" width="508.5" height="371.7" fill="none" stroke="#000" stroke-width="3.2" />
<text x="93.3" y="1083.9" font-size="31.5" font-weight="bold" text-anchor="end" fill="#000">1</text>
<text x="93.3" y="1151.68" font-size="31.5" font-weight="bold" text-anchor="end" fill="#000">0.8</text>
<text x="93.3" y="1219.46" font-size="31.5" font-weight="bold" text-anchor="end" fill="#000">0.6</text>
<text x="93.3" y="1287.24" font-size="31.5" font-weight="bold" text-anchor="end" fill="#000">0.4</text>
<text x="93.3" y="1355.02" font-size="31.5" font-weight="bold" text-anchor="end" fill="#000">0.2</text>
<text x="93.3" y="1422.8" font-size="31.5" font-weight="bold" text-anchor="end" fill="#000">0</text>
<text x="232.2" y="1470" font-size="31.5" font-weight="bold" text-anchor="middle" fill="#000">1540</text>
<text x="401.8" y="1470" font-size="31.5" font-weight="bold" text-anchor="middle" fill="#000">1560</text>
<text x="571.4" y="1470" font-size="31.5" font-weight="bold" text-anchor="middle" fill="#000">1580</text>
<text x="40.5" y="1240.5" font-size="35.3" font-weight="bold" text-anchor="middle" fill="#000" transform="rotate(-90 40.5 1240.5)">Intensity(a.u)</text>
<text x="363.6" y="1515.6" font-size="36.8" font-weight="bold" text-anchor="middle" fill="#000">Wavelength(nm)</text>
<text x="187.4" y="1127.5" font-size="31" font-weight="normal" text-anchor="start" fill="#0000ff" textLength="50" lengthAdjust="spacingAndGlyphs">535</text>
<text x="187.4" y="1168.3" font-size="31" font-weight="normal" text-anchor="start" fill="#0000ff" textLength="43" lengthAdjust="spacingAndGlyphs">nm</text>
<text x="279.5" y="1127.5" font-size="31" font-weight="normal" text-anchor="start" fill="#ff0000" textLength="50" lengthAdjust="spacingAndGlyphs">540</text>
<text x="279.5" y="1168.3" font-size="31" font-weight="normal" text-anchor="start" fill="#ff0000" textLength="43" lengthAdjust="spacingAndGlyphs">nm</text>
<text x="374.1" y="1127.5" font-size="31" font-weight="normal" text-anchor="start" fill="#ff00ff" textLength="50" lengthAdjust="spacingAndGlyphs">545</text>
<text x="374.1" y="1168.3" font-size="31" font-weight="normal" text-anchor="start" fill="#ff00ff" textLength="43" lengthAdjust="spacingAndGlyphs">nm</text>
<text x="465.9" y="1127.5" font-size="31" font-weight="normal" text-anchor="start" fill="#000000" textLength="50" lengthAdjust="spacingAndGlyphs">550</text>
<text x="465.9" y="1168.3" font-size="31" font-weight="normal" text-anchor="start" fill="#000000" textLength="43" lengthAdjust="spacingAndGlyphs">nm</text>
<text x="551.2" y="1127.5" font-size="31" font-weight="normal" text-anchor="start" fill="#00ff00" textLength="50" lengthAdjust="spacingAndGlyphs">555</text>
<text x="551.2" y="1168.3" font-size="31" font-weight="normal" text-anchor="start" fill="#00ff00" textLength="43" lengthAdjust="spacingAndGlyphs">nm</text>
</g>
<g id="panel-h">
<text x="644.5" y="1041.5" font-size="63" font-weight="bold" text-anchor="start" fill="#000" textLength="34" lengthAdjust="spacingAndGlyphs">h</text>
<line x1="787.2" y1="1427.8" x2="1250.2" y2="1080.7" stroke="#ff0000" stroke-width="2" stroke-dasharray="12 5.5"/>
<circle cx="875" cy="1357.4" r="4.9" fill="none" stroke="#0000ff" stroke-width="1.8"/>
<circle cx="952.9" cy="1302" r="4.9" fill="none" stroke="#0000ff" stroke-width="1.8"/>
<circle cx="1031.1" cy="1245" r="4.9" fill="none" stroke="#0000ff" stroke-width="1.8"/>
<circle cx="1109" cy="1188.1" r="4.9" fill="none" stroke="#0000ff" stroke-width="1.8"/>
<circle cx="1186.9" cy="1132" r="4.9" fill="none" stroke="#0000ff" stroke-width="1.8"/>
<line x1="938.73" y1="1427.8" x2="938.73" y2="1422.6" stroke="#000" stroke-width="3" /><line x1="938.73" y1="1065.6" x2="938.73" y2="1070.8" stroke="#000" stroke-width="3" /><line x1="1094.47" y1="1427.8" x2="1094.47" y2="1422.6" stroke="#000" stroke-width="3" /><line x1="1094.47" y1="1065.6" x2="1094.47" y2="1070.8" stroke="#000" stroke-width="3" /><line x1="783" y1="1324" x2="788.2" y2="1324" stroke="#000" stroke-width="3" /><line x1="1250.2" y1="1324" x2="1245" y2="1324" stroke="#000" stroke-width="3" /><line x1="783" y1="1220.2" x2="788.2" y2="1220.2" stroke="#000" stroke-width="3" /><line x1="1250.2" y1="1220.2" x2="1245" y2="1220.2" stroke="#000" stroke-width="3" /><line x1="783" y1="1116.4" x2="788.2" y2="1116.4" stroke="#000" stroke-width="3" /><line x1="1250.2" y1="1116.4" x2="1245" y2="1116.4" stroke="#000" stroke-width="3" /><rect x="783" y="1065.6" width="467.2" height="362.2" fill="none" stroke="#000" stroke-width="3.2" />
<text x="0" y="0" font-size="40" font-weight="bold" text-anchor="end" fill="#000" transform="translate(772.2 1447.4) scale(0.985 1)">1520</text>
<text x="0" y="0" font-size="40" font-weight="bold" text-anchor="end" fill="#000" transform="translate(772.2 1343.6) scale(0.985 1)">1540</text>
<text x="0" y="0" font-size="40" font-weight="bold" text-anchor="end" fill="#000" transform="translate(772.2 1239.8) scale(0.985 1)">1560</text>
<text x="0" y="0" font-size="40" font-weight="bold" text-anchor="end" fill="#000" transform="translate(772.2 1136) scale(0.985 1)">1580</text>
<text x="0" y="0" font-size="40" font-weight="bold" text-anchor="middle" fill="#000" transform="translate(783 1481.8) scale(0.99 1)">530</text>
<text x="0" y="0" font-size="40" font-weight="bold" text-anchor="middle" fill="#000" transform="translate(938.73 1481.8) scale(0.99 1)">540</text>
<text x="0" y="0" font-size="40" font-weight="bold" text-anchor="middle" fill="#000" transform="translate(1094.47 1481.8) scale(0.99 1)">550</text>
<text x="0" y="0" font-size="40" font-weight="bold" text-anchor="middle" fill="#000" transform="translate(1250.2 1481.8) scale(0.99 1)">560</text>
<text x="0" y="0" font-size="44.3" font-weight="bold" text-anchor="middle" fill="#000" transform="translate(671 1248) rotate(-90) scale(0.975 1)">Wavelength(nm)</text>
<text x="0" y="0" font-size="43.5" font-weight="bold" text-anchor="middle" fill="#000" transform="translate(1015.3 1534) scale(0.975 1)">Period(nm)</text>
<rect x="798.9" y="1081.8" width="117.4" height="93.5" fill="#ffffff" stroke="#000" stroke-width="2.7" />
<circle cx="822" cy="1105.6" r="4.9" fill="none" stroke="#0000ff" stroke-width="1.8"/>
<text x="845.5" y="1121" font-size="33" font-weight="bold" text-anchor="start" fill="#000">Exp</text>
<line x1="803.9" y1="1152.2" x2="842.3" y2="1152.2" stroke="#ff0000" stroke-width="2" stroke-dasharray="11 4"/>
<text x="845.5" y="1164.7" font-size="33" font-weight="bold" text-anchor="start" fill="#000">Sim</text>
</g>
<g id="panel-i">
<text x="1281" y="1042" font-size="62" font-weight="bold" text-anchor="start" fill="#000" textLength="14" lengthAdjust="spacingAndGlyphs">i</text>
<rect x="1448.4" y="1066.6" width="5" height="366.2" fill="#ffffff" stroke="none" stroke-width="1" /><line x1="1448.5" y1="1066.6" x2="1448.5" y2="1432.8" stroke="#b4b4b4" stroke-width="1" /><line x1="1450.9" y1="1066.6" x2="1450.9" y2="1432.8" stroke="#000" stroke-width="3.6" stroke-dasharray="14.5 14.5" stroke-dashoffset="10.6"/>
<rect x="1553.9" y="1066.6" width="5" height="366.2" fill="#ffffff" stroke="none" stroke-width="1" /><line x1="1554" y1="1066.6" x2="1554" y2="1432.8" stroke="#4a4a4a" stroke-width="1" /><line x1="1556.4" y1="1066.6" x2="1556.4" y2="1432.8" stroke="#000" stroke-width="3.6" stroke-dasharray="14.5 14.5" stroke-dashoffset="10.6"/>
<rect x="1659.4" y="1066.6" width="5" height="366.2" fill="#ffffff" stroke="none" stroke-width="1" /><line x1="1664.3" y1="1066.6" x2="1664.3" y2="1432.8" stroke="#4a4a4a" stroke-width="1" /><line x1="1661.9" y1="1066.6" x2="1661.9" y2="1432.8" stroke="#000" stroke-width="3.6" stroke-dasharray="14.5 14.5" stroke-dashoffset="10.6"/>
<rect x="1764.9" y="1066.6" width="5" height="366.2" fill="#ffffff" stroke="none" stroke-width="1" /><line x1="1769.8" y1="1066.6" x2="1769.8" y2="1432.8" stroke="#b4b4b4" stroke-width="1" /><line x1="1767.4" y1="1066.6" x2="1767.4" y2="1432.8" stroke="#000" stroke-width="3.6" stroke-dasharray="14.5 14.5" stroke-dashoffset="10.6"/>
<rect x="1870.4" y="1066.6" width="5" height="366.2" fill="#ffffff" stroke="none" stroke-width="1" /><line x1="1870.5" y1="1066.6" x2="1870.5" y2="1432.8" stroke="#b4b4b4" stroke-width="1" /><line x1="1872.9" y1="1066.6" x2="1872.9" y2="1432.8" stroke="#000" stroke-width="3.6" stroke-dasharray="14.5 14.5" stroke-dashoffset="10.6"/>
<rect x="1398.4" y="1343.1" width="538.6" height="5" fill="#ffffff" stroke="none" stroke-width="1" /><line x1="1398.4" y1="1343.2" x2="1937" y2="1343.2" stroke="#b4b4b4" stroke-width="1" /><line x1="1398.4" y1="1348" x2="1937" y2="1348" stroke="#b4b4b4" stroke-width="1" /><line x1="1388.4" y1="1345.6" x2="1937" y2="1345.6" stroke="#000" stroke-width="3.6" stroke-dasharray="14.5 14.5" stroke-dashoffset="3.9"/>
<rect x="1398.4" y="1255.9" width="538.6" height="5" fill="#ffffff" stroke="none" stroke-width="1" /><line x1="1398.4" y1="1256" x2="1937" y2="1256" stroke="#4a4a4a" stroke-width="1" /><line x1="1398.4" y1="1260.8" x2="1937" y2="1260.8" stroke="#b4b4b4" stroke-width="1" /><line x1="1388.4" y1="1258.4" x2="1937" y2="1258.4" stroke="#000" stroke-width="3.6" stroke-dasharray="14.5 14.5" stroke-dashoffset="3.9"/>
<rect x="1398.4" y="1168.7" width="538.6" height="5" fill="#ffffff" stroke="none" stroke-width="1" /><line x1="1398.4" y1="1168.8" x2="1937" y2="1168.8" stroke="#4a4a4a" stroke-width="1" /><line x1="1398.4" y1="1173.6" x2="1937" y2="1173.6" stroke="#b4b4b4" stroke-width="1" /><line x1="1388.4" y1="1171.2" x2="1937" y2="1171.2" stroke="#000" stroke-width="3.6" stroke-dasharray="14.5 14.5" stroke-dashoffset="3.9"/>
<rect x="1398.4" y="1081.5" width="538.6" height="5" fill="#ffffff" stroke="none" stroke-width="1" /><line x1="1398.4" y1="1081.6" x2="1937" y2="1081.6" stroke="#b4b4b4" stroke-width="1" /><line x1="1398.4" y1="1086.4" x2="1937" y2="1086.4" stroke="#4a4a4a" stroke-width="1" /><line x1="1388.4" y1="1084" x2="1937" y2="1084" stroke="#000" stroke-width="3.6" stroke-dasharray="14.5 14.5" stroke-dashoffset="3.9"/>
<rect x="1408.7" y="1255.3" width="84.7" height="177.5" fill="#fe0000" stroke="#3a0000" stroke-width="0.9" />
<rect x="1514.2" y="1163.5" width="84.7" height="269.3" fill="#fe0000" stroke="#3a0000" stroke-width="0.9" />
<rect x="1619.6" y="1197.6" width="85.1" height="235.2" fill="#fe0000" stroke="#3a0000" stroke-width="0.9" />
<rect x="1725" y="1184.6" width="85.1" height="248.2" fill="#fe0000" stroke="#3a0000" stroke-width="0.9" />
<rect x="1830.5" y="1089.2" width="85.1" height="343.6" fill="#fe0000" stroke="#3a0000" stroke-width="0.9" />
<line x1="1450.9" y1="1432.8" x2="1450.9" y2="1427" stroke="#000" stroke-width="3.4" /><line x1="1450.9" y1="1066.6" x2="1450.9" y2="1072.4" stroke="#000" stroke-width="3.4" /><line x1="1556.4" y1="1432.8" x2="1556.4" y2="1427" stroke="#000" stroke-width="3.4" /><line x1="1556.4" y1="1066.6" x2="1556.4" y2="1072.4" stroke="#000" stroke-width="3.4" /><line x1="1661.9" y1="1432.8" x2="1661.9" y2="1427" stroke="#000" stroke-width="3.4" /><line x1="1661.9" y1="1066.6" x2="1661.9" y2="1072.4" stroke="#000" stroke-width="3.4" /><line x1="1767.4" y1="1432.8" x2="1767.4" y2="1427" stroke="#000" stroke-width="3.4" /><line x1="1767.4" y1="1066.6" x2="1767.4" y2="1072.4" stroke="#000" stroke-width="3.4" /><line x1="1872.9" y1="1432.8" x2="1872.9" y2="1427" stroke="#000" stroke-width="3.4" /><line x1="1872.9" y1="1066.6" x2="1872.9" y2="1072.4" stroke="#000" stroke-width="3.4" /><line x1="1388.4" y1="1345.6" x2="1394.2" y2="1345.6" stroke="#000" stroke-width="3.4" /><line x1="1937" y1="1345.6" x2="1931.2" y2="1345.6" stroke="#000" stroke-width="3.4" /><line x1="1388.4" y1="1258.4" x2="1394.2" y2="1258.4" stroke="#000" stroke-width="3.4" /><line x1="1937" y1="1258.4" x2="1931.2" y2="1258.4" stroke="#000" stroke-width="3.4" /><line x1="1388.4" y1="1171.2" x2="1394.2" y2="1171.2" stroke="#000" stroke-width="3.4" /><line x1="1937" y1="1171.2" x2="1931.2" y2="1171.2" stroke="#000" stroke-width="3.4" /><line x1="1388.4" y1="1084" x2="1394.2" y2="1084" stroke="#000" stroke-width="3.4" /><line x1="1937" y1="1084" x2="1931.2" y2="1084" stroke="#000" stroke-width="3.4" /><rect x="1388.4" y="1066.6" width="548.6" height="366.2" fill="none" stroke="#000" stroke-width="3.6" />
<text x="1378.5" y="1449.3" font-size="36.5" font-weight="bold" text-anchor="end" fill="#000">0</text>
<text x="1378.5" y="1362.1" font-size="36.5" font-weight="bold" text-anchor="end" fill="#000">0.5</text>
<text x="1378.5" y="1274.9" font-size="36.5" font-weight="bold" text-anchor="end" fill="#000">1</text>
<text x="1378.5" y="1187.7" font-size="36.5" font-weight="bold" text-anchor="end" fill="#000">1.5</text>
<text x="1378.5" y="1100.5" font-size="36.5" font-weight="bold" text-anchor="end" fill="#000">2</text>
<text x="1450.9" y="1481.5" font-size="36.5" font-weight="bold" text-anchor="middle" fill="#000">535</text>
<text x="1556.4" y="1481.5" font-size="36.5" font-weight="bold" text-anchor="middle" fill="#000">540</text>
<text x="1661.9" y="1481.5" font-size="36.5" font-weight="bold" text-anchor="middle" fill="#000">545</text>
<text x="1767.4" y="1481.5" font-size="36.5" font-weight="bold" text-anchor="middle" fill="#000">550</text>
<text x="1872.9" y="1481.5" font-size="36.5" font-weight="bold" text-anchor="middle" fill="#000">555</text>
<text x="1317.3" y="1248.2" font-size="40" font-weight="bold" text-anchor="middle" fill="#000" transform="rotate(-90 1317.3 1248.2)">Q-factor</text>
<text x="1663" y="1532.7" font-size="39.5" font-weight="bold" text-anchor="middle" fill="#000">Period(nm)</text>
<text x="1390.5" y="1059.7" font-size="41" font-weight="normal" text-anchor="start" fill="#000">×</text>
<text x="1419" y="1059.7" font-size="36.5" font-weight="bold" text-anchor="start" fill="#000">10</text>
<text x="1460.5" y="1042.5" font-size="28" font-weight="bold" text-anchor="start" fill="#000">5</text>
<rect x="1776.8" y="1018.5" width="72.5" height="32.5" fill="#fe0000" stroke="none" stroke-width="1" />
<text x="1863" y="1046.7" font-size="30" font-weight="bold" text-anchor="start" fill="#000" textLength="56.5" lengthAdjust="spacingAndGlyphs">Exp</text>
</g>
</svg>
</body>
</html>
